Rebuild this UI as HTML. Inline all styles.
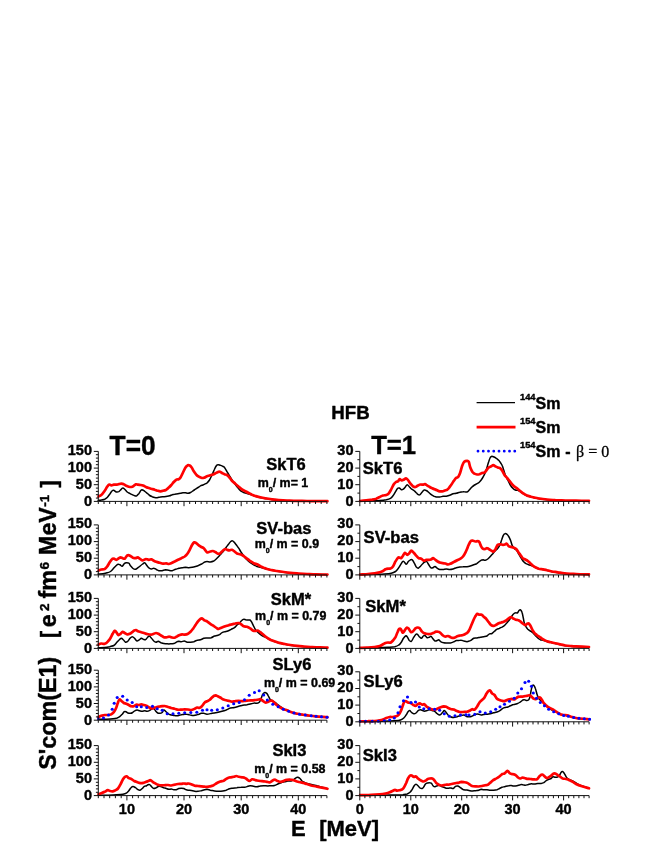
<!DOCTYPE html>
<html><head><meta charset="utf-8"><title>HFB E1 strength</title>
<style>html,body{margin:0;padding:0;background:#fff;}svg{display:block;will-change:transform;opacity:0.999;}text{font-family:"Liberation Sans", sans-serif;font-weight:bold;fill:#000;stroke:#000;stroke-width:0.4px;stroke-linejoin:round;}</style>
</head><body>
<svg width="654" height="846" viewBox="0 0 654 846">
<rect x="0" y="0" width="654" height="846" fill="#fff"/>
<clipPath id="cl0"><rect x="97.3" y="446.4" width="231.6" height="58.0"/></clipPath>
<g clip-path="url(#cl0)">
<path d="M98.0,500.5 C98.5,500.4 100.3,500.2 101.3,500.0 C102.4,499.8 103.7,499.6 104.7,499.2 C105.6,498.8 106.4,498.3 107.2,497.5 C108.0,496.7 108.9,495.2 109.7,494.2 C110.5,493.1 111.5,491.4 112.2,490.8 C112.8,490.2 113.2,490.1 113.8,490.3 C114.5,490.5 115.5,491.8 116.3,492.0 C117.1,492.2 118.2,492.0 118.8,491.7 C119.5,491.3 119.9,490.6 120.5,490.0 C121.1,489.4 122.0,488.1 122.7,488.0 C123.3,487.9 123.9,488.5 124.7,489.2 C125.4,489.8 126.4,491.3 127.2,492.0 C128.0,492.7 128.9,492.9 129.7,493.3 C130.5,493.8 131.4,494.3 132.2,494.7 C133.0,495.1 133.9,495.6 134.7,495.8 C135.4,496.0 136.0,496.2 136.7,495.8 C137.3,495.5 138.1,494.5 138.8,493.7 C139.5,492.8 140.4,490.9 141.0,490.3 C141.6,489.7 142.1,489.8 142.7,490.0 C143.3,490.2 143.9,490.8 144.7,491.3 C145.4,491.9 146.4,492.7 147.2,493.3 C148.0,494.0 148.9,495.0 149.7,495.5 C150.5,496.0 151.4,496.3 152.2,496.7 C153.0,497.0 153.9,497.3 154.7,497.5 C155.5,497.7 156.2,497.7 157.2,497.7 C158.1,497.6 159.4,497.2 160.5,497.0 C161.6,496.8 162.8,496.8 163.8,496.7 C164.9,496.6 166.2,496.5 167.2,496.3 C168.1,496.2 168.9,496.1 169.7,495.8 C170.5,495.6 171.4,494.9 172.2,494.7 C173.0,494.4 173.7,494.3 174.7,494.2 C175.6,494.0 177.1,494.0 178.0,493.8 C178.9,493.7 179.7,493.5 180.5,493.3 C181.3,493.2 182.2,492.9 183.0,492.8 C183.8,492.8 184.7,492.8 185.5,492.8 C186.3,492.9 187.2,493.4 188.0,493.3 C188.8,493.3 189.7,492.9 190.5,492.5 C191.3,492.1 192.2,491.4 193.0,490.8 C193.8,490.3 194.7,489.7 195.5,489.2 C196.3,488.6 197.2,488.0 198.0,487.5 C198.8,487.0 199.7,486.2 200.5,485.8 C201.3,485.4 202.2,485.3 203.0,485.0 C203.8,484.7 204.9,484.0 205.5,483.7 C206.1,483.3 206.4,483.6 207.0,483.0 C207.6,482.4 208.7,481.3 209.5,480.0 C210.3,478.7 211.2,476.7 212.0,475.0 C212.8,473.3 213.8,470.7 214.5,469.2 C215.2,467.6 216.1,466.1 216.7,465.3 C217.3,464.6 217.7,464.7 218.3,464.7 C218.9,464.7 219.6,465.1 220.3,465.3 C221.1,465.6 222.2,466.0 222.8,466.3 C223.5,466.7 223.8,466.6 224.5,467.5 C225.2,468.4 226.2,470.3 227.0,471.7 C227.8,473.0 228.7,474.5 229.5,475.8 C230.3,477.2 231.2,478.8 232.0,480.0 C232.8,481.2 233.7,482.3 234.5,483.3 C235.3,484.4 236.2,485.7 237.0,486.7 C237.8,487.7 238.7,488.9 239.5,489.7 C240.3,490.5 241.2,491.2 242.0,491.7 C242.8,492.2 243.7,492.5 244.5,492.8 C245.3,493.1 245.8,493.2 247.0,493.5 C248.2,493.8 250.7,494.4 252.0,494.8 C253.3,495.3 254.0,495.7 255.3,496.2 C256.7,496.6 258.7,497.1 260.3,497.5 C261.9,497.9 263.5,498.2 265.3,498.5 C267.2,498.8 269.9,499.2 272.0,499.5 C274.1,499.8 276.3,500.0 278.7,500.2 C281.1,500.4 284.1,500.5 287.0,500.7 C289.9,500.8 293.8,500.9 297.0,501.0 C300.2,501.1 302.1,501.1 307.0,501.2 C311.9,501.2 324.2,501.3 327.5,501.3" stroke="#000" stroke-width="1.5" fill="none" stroke-linejoin="round" stroke-linecap="round"/>
<path d="M98.0,496.7 C98.5,496.4 100.3,495.9 101.3,495.0 C102.4,494.1 103.7,492.2 104.7,490.8 C105.6,489.5 106.4,487.7 107.2,486.7 C107.9,485.7 108.7,484.7 109.3,484.5 C110.0,484.3 110.6,485.3 111.3,485.3 C112.1,485.4 113.0,484.8 113.8,484.7 C114.6,484.6 115.5,484.7 116.3,484.7 C117.1,484.6 118.0,484.3 118.8,484.2 C119.6,484.0 120.5,483.7 121.3,483.7 C122.1,483.7 123.0,483.8 123.8,484.2 C124.6,484.5 125.5,485.4 126.3,485.8 C127.1,486.2 128.0,486.5 128.8,486.7 C129.6,486.9 130.5,487.1 131.3,487.0 C132.1,486.9 133.1,486.3 133.8,485.8 C134.6,485.4 135.3,484.5 136.0,484.3 C136.7,484.1 137.3,484.6 138.0,484.7 C138.7,484.8 139.7,484.9 140.5,485.0 C141.3,485.1 142.2,485.2 143.0,485.5 C143.8,485.8 144.7,486.3 145.5,486.7 C146.3,487.0 147.1,487.5 148.0,487.8 C148.9,488.2 150.3,488.5 151.3,488.8 C152.4,489.1 153.6,489.3 154.7,489.7 C155.7,490.0 157.1,490.6 158.0,490.8 C158.9,491.1 159.7,491.3 160.5,491.3 C161.3,491.3 162.1,491.1 163.0,490.8 C163.9,490.6 165.4,490.2 166.3,489.7 C167.3,489.1 168.0,488.2 168.8,487.5 C169.6,486.8 170.5,485.9 171.3,485.0 C172.1,484.1 173.0,482.9 173.8,482.0 C174.6,481.1 175.5,480.1 176.3,479.7 C177.1,479.2 178.2,479.5 178.8,479.2 C179.5,478.8 179.8,478.6 180.5,477.5 C181.2,476.4 182.2,474.1 183.0,472.5 C183.8,470.9 184.8,468.6 185.5,467.5 C186.2,466.4 187.0,465.7 187.7,465.3 C188.3,465.0 189.0,465.2 189.7,465.5 C190.3,465.8 191.0,466.6 191.7,467.5 C192.3,468.4 193.1,470.2 193.8,471.3 C194.6,472.5 195.5,473.8 196.3,474.7 C197.1,475.5 198.0,476.2 198.8,476.7 C199.6,477.2 200.5,477.6 201.3,477.8 C202.1,478.0 202.9,478.1 203.8,477.8 C204.7,477.6 206.0,476.7 207.0,476.3 C208.0,475.9 209.3,475.7 210.3,475.3 C211.4,475.0 212.6,474.6 213.7,474.2 C214.7,473.7 216.1,472.9 217.0,472.5 C217.9,472.1 218.7,471.6 219.5,471.7 C220.3,471.7 221.2,472.6 222.0,473.0 C222.8,473.4 223.7,473.8 224.5,474.2 C225.3,474.5 226.2,474.5 227.0,475.0 C227.8,475.5 228.7,476.6 229.5,477.5 C230.3,478.4 231.1,479.8 232.0,480.8 C232.9,481.8 234.3,482.7 235.3,483.7 C236.4,484.6 237.6,485.7 238.7,486.7 C239.7,487.6 240.9,488.8 242.0,489.5 C243.1,490.2 244.3,490.8 245.3,491.3 C246.4,491.9 247.6,492.5 248.7,493.0 C249.7,493.5 250.9,494.2 252.0,494.7 C253.1,495.1 254.0,495.6 255.3,496.0 C256.7,496.4 258.7,497.0 260.3,497.3 C261.9,497.7 263.5,498.0 265.3,498.3 C267.2,498.7 269.9,499.1 272.0,499.3 C274.1,499.6 276.3,499.8 278.7,500.0 C281.1,500.2 284.1,500.4 287.0,500.5 C289.9,500.6 293.8,500.8 297.0,500.8 C300.2,500.9 304.0,500.9 307.0,501.0 C310.0,501.1 312.7,501.1 316.0,501.2 C319.3,501.2 325.7,501.2 327.5,501.2" stroke="#f00" stroke-width="2.7" fill="none" stroke-linejoin="round" stroke-linecap="round"/>
</g>
<text x="92.0" y="505.8" font-size="14.5" text-anchor="end">0</text>
<text x="92.0" y="488.8" font-size="14.5" text-anchor="end">50</text>
<text x="92.0" y="471.8" font-size="14.5" text-anchor="end">100</text>
<text x="92.0" y="454.8" font-size="14.5" text-anchor="end">150</text>
<path d="M98.3,451.4 L98.3,501.4 L326.9,501.4 M98.3,501.4 h-4.5 M98.3,498.1 h-2.4 M98.3,494.7 h-2.4 M98.3,491.4 h-2.4 M98.3,488.1 h-2.4 M98.3,484.7 h-4.5 M98.3,481.4 h-2.4 M98.3,478.1 h-2.4 M98.3,474.7 h-2.4 M98.3,471.4 h-2.4 M98.3,468.1 h-4.5 M98.3,464.7 h-2.4 M98.3,461.4 h-2.4 M98.3,458.1 h-2.4 M98.3,454.7 h-2.4 M98.3,451.4 h-4.5 M98.3,501.4 v2.6 M104.0,501.4 v2.6 M109.7,501.4 v2.6 M115.4,501.4 v2.6 M121.2,501.4 v2.6 M126.9,501.4 v4.8 M132.6,501.4 v2.6 M138.3,501.4 v2.6 M144.0,501.4 v2.6 M149.7,501.4 v2.6 M155.4,501.4 v2.6 M161.2,501.4 v2.6 M166.9,501.4 v2.6 M172.6,501.4 v2.6 M178.3,501.4 v2.6 M184.0,501.4 v4.8 M189.7,501.4 v2.6 M195.5,501.4 v2.6 M201.2,501.4 v2.6 M206.9,501.4 v2.6 M212.6,501.4 v2.6 M218.3,501.4 v2.6 M224.0,501.4 v2.6 M229.7,501.4 v2.6 M235.5,501.4 v2.6 M241.2,501.4 v4.8 M246.9,501.4 v2.6 M252.6,501.4 v2.6 M258.3,501.4 v2.6 M264.0,501.4 v2.6 M269.8,501.4 v2.6 M275.5,501.4 v2.6 M281.2,501.4 v2.6 M286.9,501.4 v2.6 M292.6,501.4 v2.6 M298.3,501.4 v4.8 M304.0,501.4 v2.6 M309.8,501.4 v2.6 M315.5,501.4 v2.6 M321.2,501.4 v2.6 M326.9,501.4 v2.6" stroke="#111" stroke-width="1.0" fill="none"/>
<clipPath id="cr0"><rect x="358.8" y="446.4" width="232.3" height="58.0"/></clipPath>
<g clip-path="url(#cr0)">
<path d="M359.8,501.2 C361.7,501.1 368.2,500.9 371.3,500.8 C374.5,500.7 377.3,500.7 379.7,500.5 C382.1,500.3 384.6,500.0 386.3,499.7 C388.1,499.3 389.4,498.9 390.5,498.3 C391.6,497.7 392.2,496.9 393.0,495.8 C393.8,494.8 394.8,492.9 395.5,491.7 C396.2,490.5 397.1,488.9 397.7,488.3 C398.3,487.7 398.7,487.8 399.3,488.0 C399.9,488.2 400.7,489.5 401.3,489.7 C402.0,489.9 402.7,489.6 403.3,489.2 C404.0,488.7 404.9,487.4 405.5,486.7 C406.1,485.9 406.6,484.7 407.2,484.7 C407.8,484.7 408.6,485.9 409.3,486.7 C410.1,487.4 410.9,488.5 411.7,489.2 C412.5,489.8 413.6,490.2 414.3,490.8 C415.1,491.4 415.7,492.2 416.3,492.8 C417.0,493.4 417.7,494.4 418.3,494.7 C418.9,495.0 419.4,495.1 420.0,494.7 C420.6,494.2 421.5,492.7 422.2,492.0 C422.8,491.3 423.5,490.2 424.2,490.0 C424.8,489.8 425.6,490.1 426.3,490.5 C427.1,490.9 428.0,491.8 428.8,492.5 C429.6,493.2 430.5,494.1 431.3,494.7 C432.1,495.3 433.0,495.8 433.8,496.2 C434.6,496.5 435.4,496.9 436.3,497.0 C437.3,497.1 438.6,497.1 439.7,497.0 C440.7,496.9 441.9,496.5 443.0,496.3 C444.1,496.2 445.3,496.3 446.3,496.2 C447.4,496.0 448.6,495.7 449.7,495.3 C450.7,495.0 451.9,494.2 453.0,493.8 C454.1,493.5 455.3,493.6 456.3,493.3 C457.4,493.1 458.6,492.4 459.7,492.2 C460.7,491.9 461.8,491.7 463.0,491.7 C464.2,491.6 466.0,492.3 467.0,492.0 C468.0,491.7 468.7,490.5 469.5,489.7 C470.3,488.9 471.2,487.7 472.0,487.0 C472.8,486.3 473.7,485.5 474.5,485.0 C475.3,484.5 476.3,484.1 477.0,483.7 C477.7,483.3 478.3,483.1 479.0,482.5 C479.7,481.9 480.5,480.9 481.2,480.0 C481.9,479.1 482.7,477.9 483.3,476.7 C484.0,475.5 484.7,474.0 485.3,472.5 C485.9,471.0 486.5,469.2 487.0,467.5 C487.5,465.8 488.1,463.3 488.7,461.7 C489.2,460.1 489.8,458.4 490.3,457.5 C490.9,456.6 491.4,456.4 492.0,456.3 C492.6,456.3 493.3,456.7 494.0,457.0 C494.7,457.3 495.4,457.8 496.2,458.3 C496.9,458.9 497.9,459.6 498.7,460.3 C499.4,461.1 500.1,462.1 500.7,463.0 C501.3,463.9 501.9,464.7 502.3,465.8 C502.8,467.0 503.2,468.5 503.7,470.0 C504.1,471.5 504.7,473.4 505.3,475.0 C506.0,476.6 507.0,478.4 507.8,480.0 C508.6,481.6 509.5,483.7 510.3,485.0 C511.1,486.3 512.0,487.5 512.8,488.3 C513.6,489.1 514.5,489.7 515.3,490.0 C516.1,490.3 517.0,490.1 517.8,490.3 C518.6,490.6 519.4,491.1 520.3,491.7 C521.3,492.2 522.6,493.2 523.7,493.8 C524.7,494.5 525.8,495.2 527.0,495.7 C528.2,496.1 529.8,496.5 531.2,496.8 C532.5,497.2 533.9,497.7 535.3,498.0 C536.8,498.3 538.5,498.6 540.3,498.8 C542.2,499.1 544.6,499.4 547.0,499.7 C549.4,499.9 552.4,500.2 555.3,500.3 C558.3,500.5 559.9,500.6 565.3,500.7 C570.7,500.8 585.2,500.9 589.0,501.0" stroke="#000" stroke-width="1.5" fill="none" stroke-linejoin="round" stroke-linecap="round"/>
<path d="M359.8,501.0 C360.9,500.9 364.4,500.5 366.3,500.3 C368.3,500.1 370.6,499.9 372.2,499.7 C373.8,499.4 375.1,499.1 376.3,498.7 C377.5,498.2 378.6,497.5 379.7,497.0 C380.7,496.5 381.9,495.8 383.0,495.5 C384.1,495.2 385.4,495.3 386.3,495.0 C387.3,494.7 388.0,494.3 388.8,493.3 C389.6,492.4 390.5,490.6 391.3,489.2 C392.1,487.7 393.1,485.3 393.8,484.2 C394.6,483.0 395.3,482.5 396.0,482.0 C396.7,481.5 397.4,481.8 398.0,481.3 C398.6,480.9 399.1,479.3 399.7,479.2 C400.3,479.0 401.0,480.3 401.7,480.3 C402.3,480.4 403.1,480.0 403.8,479.7 C404.5,479.3 405.3,478.3 406.0,478.3 C406.7,478.4 407.3,479.1 408.0,480.0 C408.7,480.9 409.7,482.7 410.5,483.7 C411.3,484.7 412.2,485.8 413.0,486.3 C413.8,486.9 414.7,487.1 415.5,487.0 C416.3,486.9 417.2,485.9 418.0,485.5 C418.8,485.1 419.7,484.6 420.5,484.5 C421.3,484.4 422.3,484.7 423.0,484.7 C423.7,484.6 424.3,484.0 425.0,484.2 C425.7,484.3 426.4,485.0 427.2,485.5 C427.9,486.0 428.9,486.5 429.7,487.0 C430.5,487.5 431.4,488.0 432.2,488.3 C433.0,488.7 433.9,489.0 434.7,489.3 C435.5,489.7 436.4,490.0 437.2,490.3 C438.0,490.7 438.9,491.2 439.7,491.3 C440.5,491.5 441.4,491.5 442.2,491.3 C443.0,491.2 443.9,490.8 444.7,490.5 C445.5,490.2 446.4,490.1 447.2,489.7 C447.9,489.2 448.7,488.3 449.3,487.5 C450.0,486.7 450.6,485.7 451.3,484.7 C452.1,483.6 453.1,481.9 453.8,480.8 C454.6,479.8 455.3,478.6 456.0,478.0 C456.7,477.4 457.4,477.9 458.0,477.2 C458.6,476.4 459.3,475.1 460.0,473.3 C460.7,471.5 461.5,467.7 462.2,465.8 C462.9,464.0 463.6,462.5 464.3,461.7 C465.1,460.9 466.3,460.8 467.0,460.8 C467.7,460.8 468.1,460.6 468.7,461.7 C469.2,462.7 469.7,465.9 470.3,467.5 C470.9,469.1 471.7,470.7 472.3,471.7 C473.0,472.7 473.8,473.2 474.5,473.7 C475.2,474.1 476.2,474.4 477.0,474.5 C477.8,474.6 478.7,474.4 479.5,474.2 C480.3,473.9 481.2,473.3 482.0,473.0 C482.8,472.7 483.8,473.0 484.5,472.5 C485.2,472.0 486.0,470.8 486.7,470.0 C487.3,469.2 487.9,468.1 488.7,467.5 C489.4,466.9 490.4,466.7 491.2,466.3 C491.9,465.9 492.7,465.0 493.3,465.0 C494.0,465.0 494.6,465.9 495.3,466.3 C496.1,466.7 497.0,467.2 497.8,467.5 C498.6,467.8 499.6,467.8 500.3,468.3 C501.1,468.9 501.7,469.8 502.3,470.8 C503.0,471.9 503.8,473.9 504.5,475.0 C505.2,476.1 506.2,476.9 507.0,477.8 C507.8,478.8 508.7,479.8 509.5,480.8 C510.3,481.8 511.2,483.2 512.0,484.2 C512.8,485.1 513.7,486.0 514.5,486.7 C515.3,487.3 516.1,487.6 517.0,488.3 C517.9,489.1 519.3,490.3 520.3,491.2 C521.4,492.0 522.6,493.0 523.7,493.7 C524.7,494.4 525.8,495.0 527.0,495.5 C528.2,496.0 529.8,496.3 531.2,496.7 C532.5,497.0 533.9,497.5 535.3,497.8 C536.8,498.2 538.5,498.4 540.3,498.7 C542.2,498.9 544.6,499.3 547.0,499.5 C549.4,499.7 552.4,500.0 555.3,500.2 C558.3,500.3 562.0,500.4 565.3,500.5 C568.6,500.6 572.2,500.6 576.0,500.7 C579.8,500.7 586.9,500.8 589.0,500.8" stroke="#f00" stroke-width="2.7" fill="none" stroke-linejoin="round" stroke-linecap="round"/>
</g>
<text x="353.5" y="505.8" font-size="14.5" text-anchor="end">0</text>
<text x="353.5" y="488.8" font-size="14.5" text-anchor="end">10</text>
<text x="353.5" y="471.8" font-size="14.5" text-anchor="end">20</text>
<text x="353.5" y="454.8" font-size="14.5" text-anchor="end">30</text>
<path d="M359.8,451.4 L359.8,501.4 L589.1,501.4 M359.8,501.4 h-4.5 M359.8,493.1 h-2.4 M359.8,484.7 h-4.5 M359.8,476.4 h-2.4 M359.8,468.1 h-4.5 M359.8,459.7 h-2.4 M359.8,451.4 h-4.5 M359.8,501.4 v4.8 M364.9,501.4 v2.6 M370.0,501.4 v2.6 M375.1,501.4 v2.6 M380.2,501.4 v2.6 M385.3,501.4 v2.6 M390.4,501.4 v2.6 M395.5,501.4 v2.6 M400.6,501.4 v2.6 M405.7,501.4 v2.6 M410.8,501.4 v4.8 M415.8,501.4 v2.6 M420.9,501.4 v2.6 M426.0,501.4 v2.6 M431.1,501.4 v2.6 M436.2,501.4 v2.6 M441.3,501.4 v2.6 M446.4,501.4 v2.6 M451.5,501.4 v2.6 M456.6,501.4 v2.6 M461.7,501.4 v4.8 M466.8,501.4 v2.6 M471.9,501.4 v2.6 M477.0,501.4 v2.6 M482.1,501.4 v2.6 M487.2,501.4 v2.6 M492.3,501.4 v2.6 M497.4,501.4 v2.6 M502.5,501.4 v2.6 M507.6,501.4 v2.6 M512.6,501.4 v4.8 M517.7,501.4 v2.6 M522.8,501.4 v2.6 M527.9,501.4 v2.6 M533.0,501.4 v2.6 M538.1,501.4 v2.6 M543.2,501.4 v2.6 M548.3,501.4 v2.6 M553.4,501.4 v2.6 M558.5,501.4 v2.6 M563.6,501.4 v4.8 M568.7,501.4 v2.6 M573.8,501.4 v2.6 M578.9,501.4 v2.6 M584.0,501.4 v2.6 M589.1,501.4 v2.6" stroke="#111" stroke-width="1.0" fill="none"/>
<clipPath id="cl1"><rect x="97.3" y="519.9" width="231.6" height="58.0"/></clipPath>
<g clip-path="url(#cl1)">
<path d="M98.0,574.0 C98.8,573.9 101.5,573.9 103.0,573.7 C104.5,573.5 106.0,573.2 107.2,572.8 C108.4,572.5 109.6,572.1 110.5,571.5 C111.4,570.9 112.2,569.9 113.0,569.0 C113.8,568.1 114.7,566.9 115.5,566.2 C116.3,565.4 117.3,564.5 118.0,564.3 C118.7,564.1 119.3,564.5 120.0,564.8 C120.7,565.1 121.5,566.4 122.2,566.2 C122.9,566.0 123.7,564.2 124.3,563.7 C125.0,563.1 125.6,562.9 126.3,562.8 C127.1,562.8 128.2,562.7 128.8,563.2 C129.5,563.6 129.8,564.8 130.5,565.7 C131.2,566.5 132.2,567.9 133.0,568.5 C133.8,569.1 134.7,569.5 135.5,569.3 C136.3,569.2 137.2,568.3 138.0,567.7 C138.8,567.1 139.8,566.3 140.5,565.7 C141.2,565.1 142.0,564.5 142.7,564.0 C143.3,563.5 144.1,562.5 144.7,562.7 C145.3,562.8 145.7,564.0 146.3,564.8 C147.0,565.7 148.0,567.2 148.8,567.8 C149.6,568.5 150.5,568.9 151.3,569.0 C152.1,569.1 153.0,568.1 153.8,568.2 C154.6,568.2 155.5,569.1 156.3,569.5 C157.1,569.9 157.9,570.5 158.8,570.7 C159.8,570.9 161.1,570.8 162.2,570.7 C163.2,570.5 164.4,569.9 165.5,569.8 C166.6,569.8 167.8,570.2 168.8,570.3 C169.9,570.5 171.1,570.8 172.2,570.7 C173.2,570.5 174.4,569.7 175.5,569.3 C176.6,569.0 177.8,568.6 178.8,568.3 C179.9,568.1 181.1,568.0 182.2,567.8 C183.2,567.7 184.4,567.4 185.5,567.3 C186.6,567.3 187.8,567.7 188.8,567.7 C189.9,567.7 191.1,567.5 192.2,567.3 C193.2,567.1 194.4,566.8 195.5,566.5 C196.6,566.2 197.8,565.8 198.8,565.3 C199.9,564.9 201.2,564.2 202.2,563.7 C203.1,563.1 203.9,562.3 204.7,562.0 C205.4,561.7 206.1,561.5 207.0,561.5 C207.9,561.5 209.3,562.1 210.3,562.0 C211.4,561.9 212.7,561.5 213.7,561.0 C214.6,560.5 215.4,559.7 216.2,559.0 C217.0,558.3 217.9,557.4 218.7,556.5 C219.5,555.6 220.4,554.6 221.2,553.7 C222.0,552.7 222.9,551.7 223.7,550.7 C224.5,549.7 225.4,548.4 226.2,547.3 C227.0,546.3 227.9,544.9 228.7,544.0 C229.4,543.1 230.1,542.0 230.7,541.5 C231.3,541.0 231.8,540.6 232.3,540.7 C232.9,540.7 233.4,541.3 234.0,542.0 C234.6,542.7 235.4,543.8 236.2,544.8 C236.9,545.8 237.9,547.0 238.7,548.2 C239.5,549.4 240.4,551.1 241.2,552.3 C242.0,553.6 242.7,554.8 243.7,556.0 C244.6,557.2 245.9,558.8 247.0,559.8 C248.1,560.9 249.3,561.9 250.3,562.7 C251.4,563.5 252.6,564.2 253.7,564.8 C254.7,565.4 255.9,566.1 257.0,566.5 C258.1,566.9 259.3,567.1 260.3,567.3 C261.4,567.6 262.6,567.9 263.7,568.2 C264.7,568.5 265.7,568.8 267.0,569.2 C268.3,569.5 270.4,570.0 272.0,570.3 C273.6,570.7 275.1,570.9 277.0,571.2 C278.9,571.5 281.5,571.9 283.7,572.2 C285.8,572.5 287.9,572.8 290.3,573.0 C292.7,573.2 296.0,573.5 298.7,573.7 C301.3,573.9 302.4,574.0 307.0,574.2 C311.6,574.3 324.2,574.6 327.5,574.7" stroke="#000" stroke-width="1.5" fill="none" stroke-linejoin="round" stroke-linecap="round"/>
<path d="M98.0,570.7 C98.5,570.5 100.3,569.8 101.3,569.5 C102.4,569.2 103.7,569.5 104.7,569.0 C105.6,568.5 106.4,567.6 107.2,566.5 C108.0,565.4 108.9,563.5 109.7,562.3 C110.5,561.1 111.5,559.6 112.2,559.0 C112.8,558.4 113.2,558.5 113.8,558.7 C114.5,558.8 115.5,559.9 116.3,559.8 C117.1,559.8 118.2,558.6 118.8,558.2 C119.5,557.8 119.9,557.3 120.5,557.3 C121.1,557.3 122.0,558.0 122.7,558.2 C123.3,558.4 124.1,558.9 124.7,558.7 C125.3,558.4 125.8,557.1 126.3,556.5 C126.9,555.9 127.3,555.2 128.0,555.2 C128.7,555.1 129.7,555.6 130.5,556.0 C131.3,556.4 132.2,557.3 133.0,557.7 C133.8,558.0 134.8,558.2 135.5,558.2 C136.2,558.1 137.0,557.3 137.7,557.3 C138.3,557.4 138.9,558.2 139.7,558.7 C140.4,559.1 141.4,560.2 142.2,560.3 C143.0,560.5 144.0,559.7 144.7,559.5 C145.3,559.3 145.7,558.9 146.3,559.0 C147.0,559.1 148.0,559.8 148.8,559.8 C149.6,559.9 150.5,559.2 151.3,559.3 C152.1,559.5 153.0,560.3 153.8,560.7 C154.6,561.1 155.4,561.5 156.3,561.8 C157.3,562.2 158.6,562.5 159.7,562.8 C160.7,563.1 161.9,563.6 163.0,563.7 C164.1,563.7 165.4,563.3 166.3,563.3 C167.3,563.4 168.0,564.0 168.8,564.0 C169.6,564.0 170.4,563.6 171.3,563.2 C172.3,562.8 173.6,562.0 174.7,561.5 C175.7,561.0 176.9,560.4 178.0,559.8 C179.1,559.3 180.3,558.7 181.3,558.2 C182.4,557.6 183.7,557.2 184.7,556.5 C185.6,555.8 186.4,555.1 187.2,554.0 C188.0,552.9 188.9,551.3 189.7,549.8 C190.5,548.4 191.4,546.0 192.2,544.8 C192.9,543.6 193.7,542.6 194.3,542.3 C195.0,542.1 195.6,542.7 196.3,543.2 C197.1,543.6 198.0,544.7 198.8,545.3 C199.6,545.9 200.5,546.5 201.3,547.0 C202.1,547.5 202.9,547.3 203.8,548.2 C204.7,549.0 206.0,551.8 207.0,552.3 C208.0,552.9 209.4,551.7 210.3,551.5 C211.3,551.3 212.0,550.9 212.8,551.0 C213.6,551.1 214.5,551.6 215.3,552.0 C216.1,552.4 217.0,553.5 217.8,553.7 C218.6,553.9 219.5,553.6 220.3,553.2 C221.1,552.7 222.1,551.3 222.8,550.7 C223.6,550.0 224.3,549.1 225.0,549.0 C225.7,548.9 226.3,549.6 227.0,549.8 C227.7,550.0 228.7,550.3 229.5,550.3 C230.3,550.3 231.2,549.6 232.0,549.8 C232.8,550.0 233.7,550.9 234.5,551.5 C235.3,552.1 236.1,553.0 237.0,553.5 C237.9,554.0 239.3,553.9 240.3,554.3 C241.4,554.7 242.6,555.3 243.7,556.0 C244.7,556.7 245.9,557.8 247.0,558.7 C248.1,559.5 249.3,560.4 250.3,561.2 C251.4,561.9 252.6,562.7 253.7,563.2 C254.7,563.7 255.9,563.9 257.0,564.3 C258.1,564.8 259.3,565.6 260.3,566.2 C261.4,566.7 262.6,567.2 263.7,567.7 C264.7,568.1 265.7,568.6 267.0,569.0 C268.3,569.4 270.4,569.8 272.0,570.2 C273.6,570.5 275.1,570.7 277.0,571.0 C278.9,571.3 281.5,571.7 283.7,572.0 C285.8,572.3 287.9,572.6 290.3,572.8 C292.7,573.1 296.0,573.3 298.7,573.5 C301.3,573.7 304.2,573.9 307.0,574.0 C309.8,574.1 312.7,574.3 316.0,574.3 C319.3,574.4 325.7,574.5 327.5,574.5" stroke="#f00" stroke-width="2.7" fill="none" stroke-linejoin="round" stroke-linecap="round"/>
</g>
<text x="92.0" y="579.3" font-size="14.5" text-anchor="end">0</text>
<text x="92.0" y="562.3" font-size="14.5" text-anchor="end">50</text>
<text x="92.0" y="545.3" font-size="14.5" text-anchor="end">100</text>
<text x="92.0" y="528.3" font-size="14.5" text-anchor="end">150</text>
<path d="M98.3,524.9 L98.3,574.9 L326.9,574.9 M98.3,574.9 h-4.5 M98.3,571.6 h-2.4 M98.3,568.2 h-2.4 M98.3,564.9 h-2.4 M98.3,561.6 h-2.4 M98.3,558.2 h-4.5 M98.3,554.9 h-2.4 M98.3,551.6 h-2.4 M98.3,548.2 h-2.4 M98.3,544.9 h-2.4 M98.3,541.6 h-4.5 M98.3,538.2 h-2.4 M98.3,534.9 h-2.4 M98.3,531.6 h-2.4 M98.3,528.2 h-2.4 M98.3,524.9 h-4.5 M98.3,574.9 v2.6 M104.0,574.9 v2.6 M109.7,574.9 v2.6 M115.4,574.9 v2.6 M121.2,574.9 v2.6 M126.9,574.9 v4.8 M132.6,574.9 v2.6 M138.3,574.9 v2.6 M144.0,574.9 v2.6 M149.7,574.9 v2.6 M155.4,574.9 v2.6 M161.2,574.9 v2.6 M166.9,574.9 v2.6 M172.6,574.9 v2.6 M178.3,574.9 v2.6 M184.0,574.9 v4.8 M189.7,574.9 v2.6 M195.5,574.9 v2.6 M201.2,574.9 v2.6 M206.9,574.9 v2.6 M212.6,574.9 v2.6 M218.3,574.9 v2.6 M224.0,574.9 v2.6 M229.7,574.9 v2.6 M235.5,574.9 v2.6 M241.2,574.9 v4.8 M246.9,574.9 v2.6 M252.6,574.9 v2.6 M258.3,574.9 v2.6 M264.0,574.9 v2.6 M269.8,574.9 v2.6 M275.5,574.9 v2.6 M281.2,574.9 v2.6 M286.9,574.9 v2.6 M292.6,574.9 v2.6 M298.3,574.9 v4.8 M304.0,574.9 v2.6 M309.8,574.9 v2.6 M315.5,574.9 v2.6 M321.2,574.9 v2.6 M326.9,574.9 v2.6" stroke="#111" stroke-width="1.0" fill="none"/>
<clipPath id="cr1"><rect x="358.8" y="519.9" width="232.3" height="58.0"/></clipPath>
<g clip-path="url(#cr1)">
<path d="M359.8,574.7 C362.2,574.6 370.7,574.4 374.7,574.3 C378.6,574.2 382.0,574.2 384.7,574.0 C387.3,573.8 389.6,573.6 391.3,573.2 C393.1,572.8 394.4,572.2 395.5,571.5 C396.6,570.8 397.2,569.7 398.0,568.7 C398.8,567.6 399.8,566.0 400.5,564.8 C401.2,563.7 402.1,562.0 402.7,561.5 C403.3,561.0 403.7,561.5 404.3,562.0 C404.9,562.5 405.7,564.4 406.3,564.3 C407.0,564.3 407.7,562.2 408.3,561.5 C409.0,560.8 409.9,560.1 410.5,559.8 C411.1,559.6 411.6,559.3 412.2,559.8 C412.8,560.4 413.7,562.0 414.3,563.2 C415.0,564.3 415.7,566.2 416.3,567.0 C417.0,567.8 417.7,568.3 418.3,568.2 C419.0,568.0 419.8,566.9 420.5,566.2 C421.2,565.4 422.0,564.3 422.7,563.7 C423.3,563.0 424.0,562.3 424.7,562.0 C425.3,561.7 426.0,561.0 426.7,561.5 C427.3,562.0 428.1,563.8 428.8,564.8 C429.5,565.8 430.3,567.4 431.0,567.8 C431.7,568.3 432.4,567.9 433.0,567.7 C433.6,567.5 434.3,566.4 435.0,566.5 C435.7,566.6 436.4,567.7 437.2,568.2 C437.9,568.6 438.7,569.3 439.7,569.5 C440.6,569.7 441.9,569.6 443.0,569.5 C444.1,569.4 445.3,569.0 446.3,569.0 C447.4,569.0 448.6,569.5 449.7,569.5 C450.7,569.5 451.9,569.3 453.0,569.0 C454.1,568.7 455.3,568.0 456.3,567.7 C457.4,567.3 458.6,567.2 459.7,567.0 C460.7,566.8 461.8,566.7 463.0,566.7 C464.2,566.6 465.8,566.8 467.0,566.7 C468.2,566.6 469.3,566.3 470.3,566.0 C471.4,565.7 472.7,565.2 473.7,564.8 C474.7,564.5 475.8,564.1 476.7,563.7 C477.5,563.2 478.3,562.4 479.0,561.8 C479.7,561.3 480.5,560.5 481.2,560.2 C481.9,559.8 482.7,559.8 483.3,559.8 C484.0,559.9 484.6,560.5 485.3,560.3 C486.1,560.2 487.0,559.6 487.8,559.0 C488.6,558.4 489.5,557.4 490.3,556.5 C491.1,555.6 492.0,554.6 492.8,553.7 C493.6,552.7 494.5,551.5 495.3,550.7 C496.1,549.8 497.1,549.1 497.8,548.2 C498.6,547.2 499.4,546.2 500.0,544.8 C500.6,543.5 501.1,541.4 501.7,539.8 C502.2,538.3 502.8,536.3 503.3,535.3 C503.9,534.3 504.4,533.8 505.0,533.7 C505.6,533.5 506.4,533.8 507.0,534.3 C507.6,534.9 508.4,536.0 509.0,537.0 C509.6,538.0 510.1,539.3 510.7,540.7 C511.2,542.1 511.7,544.4 512.3,545.7 C512.9,546.9 513.8,547.9 514.5,548.7 C515.2,549.4 516.0,549.5 516.7,550.3 C517.3,551.2 517.9,552.7 518.7,554.0 C519.4,555.3 520.4,556.9 521.2,558.2 C522.0,559.4 522.9,561.0 523.7,561.8 C524.5,562.7 525.4,563.2 526.2,563.7 C527.0,564.1 527.7,564.5 528.7,564.8 C529.6,565.2 530.9,565.3 532.0,565.7 C533.1,566.1 534.3,566.8 535.3,567.3 C536.4,567.8 537.5,568.5 538.7,568.8 C539.9,569.2 541.5,569.3 542.8,569.5 C544.2,569.7 545.5,570.0 547.0,570.3 C548.5,570.7 550.3,571.3 552.0,571.7 C553.7,572.0 555.8,572.2 557.8,572.5 C559.8,572.8 562.5,573.3 564.5,573.5 C566.5,573.7 566.4,573.8 570.3,574.0 C574.3,574.2 586.0,574.4 589.0,574.5" stroke="#000" stroke-width="1.5" fill="none" stroke-linejoin="round" stroke-linecap="round"/>
<path d="M359.8,574.5 C361.1,574.4 365.6,574.2 368.0,574.0 C370.4,573.8 372.8,573.6 374.7,573.3 C376.5,573.1 378.3,572.7 379.7,572.3 C381.0,572.0 382.1,571.5 383.0,571.0 C383.9,570.5 384.7,569.7 385.5,569.3 C386.3,569.0 387.2,568.8 388.0,568.7 C388.8,568.5 389.7,568.8 390.5,568.5 C391.3,568.2 392.3,567.5 393.0,566.5 C393.7,565.5 394.3,563.6 395.0,562.3 C395.7,561.1 396.6,559.5 397.2,558.7 C397.8,557.9 398.2,557.4 398.8,557.3 C399.4,557.3 400.3,558.4 401.0,558.2 C401.7,557.9 402.4,556.5 403.0,555.7 C403.6,554.8 404.3,553.0 405.0,552.8 C405.7,552.7 406.5,554.8 407.2,554.8 C407.9,554.9 408.7,553.8 409.3,553.2 C410.0,552.5 410.6,550.7 411.3,550.7 C412.1,550.6 413.0,552.0 413.8,552.8 C414.6,553.6 415.5,554.8 416.3,555.7 C417.1,556.5 418.0,557.7 418.8,558.2 C419.6,558.6 420.5,558.3 421.3,558.7 C422.1,559.1 423.0,560.5 423.8,560.7 C424.6,560.9 425.5,560.0 426.3,559.8 C427.1,559.7 428.1,559.9 428.8,559.8 C429.6,559.8 430.3,559.8 431.0,559.5 C431.7,559.2 432.4,558.2 433.0,558.2 C433.6,558.2 434.3,559.0 435.0,559.5 C435.7,560.0 436.8,561.0 437.7,561.5 C438.5,562.0 439.6,562.4 440.5,562.7 C441.4,562.9 442.2,563.0 443.0,563.2 C443.8,563.3 444.7,563.3 445.5,563.5 C446.3,563.7 447.2,564.5 448.0,564.5 C448.8,564.5 449.6,564.1 450.5,563.7 C451.4,563.3 452.8,562.5 453.8,562.0 C454.9,561.5 456.1,560.9 457.2,560.3 C458.2,559.8 459.6,559.3 460.5,558.7 C461.4,558.1 462.2,557.5 463.0,556.5 C463.8,555.5 464.9,553.5 465.5,552.3 C466.1,551.1 466.5,550.2 467.0,549.0 C467.5,547.8 468.1,546.1 468.7,544.8 C469.3,543.6 470.0,541.8 470.7,541.2 C471.3,540.5 472.1,540.6 472.8,540.7 C473.6,540.7 474.5,541.4 475.3,541.5 C476.1,541.6 477.2,541.0 477.8,541.2 C478.5,541.3 479.0,541.5 479.5,542.3 C480.0,543.2 480.6,545.5 481.2,546.5 C481.7,547.5 482.2,548.3 482.8,548.7 C483.4,549.1 484.3,549.1 485.0,549.0 C485.7,548.9 486.3,548.1 487.0,548.2 C487.7,548.2 488.7,549.0 489.5,549.5 C490.3,550.0 491.3,550.7 492.0,551.0 C492.7,551.3 493.1,551.9 493.7,551.5 C494.3,551.1 495.0,549.7 495.7,548.7 C496.3,547.6 497.1,545.5 497.8,544.8 C498.6,544.1 499.5,544.3 500.3,544.3 C501.1,544.3 502.1,544.8 502.8,544.8 C503.6,544.9 504.4,544.7 505.0,544.5 C505.6,544.3 506.1,543.4 506.7,543.7 C507.3,543.9 507.9,545.6 508.7,546.2 C509.4,546.7 510.4,546.8 511.2,547.0 C512.0,547.2 512.9,547.3 513.7,547.7 C514.5,548.0 515.4,548.3 516.2,549.0 C516.9,549.7 517.7,551.1 518.3,552.0 C519.0,552.9 519.6,553.8 520.3,554.8 C521.1,555.8 522.0,557.4 522.8,558.2 C523.6,558.9 524.5,559.0 525.3,559.5 C526.1,560.0 527.0,560.4 527.8,561.0 C528.6,561.6 529.5,562.4 530.3,563.2 C531.1,563.9 532.0,565.0 532.8,565.7 C533.6,566.3 534.4,566.9 535.3,567.3 C536.3,567.8 537.5,568.3 538.7,568.7 C539.9,569.0 541.5,569.1 542.8,569.3 C544.2,569.6 545.5,569.8 547.0,570.2 C548.5,570.5 550.3,571.2 552.0,571.5 C553.7,571.8 555.8,572.0 557.8,572.3 C559.8,572.6 562.5,573.1 564.5,573.3 C566.5,573.6 568.5,573.7 570.3,573.8 C572.2,573.9 573.0,573.9 576.0,574.0 C579.0,574.1 586.9,574.3 589.0,574.3" stroke="#f00" stroke-width="2.7" fill="none" stroke-linejoin="round" stroke-linecap="round"/>
</g>
<text x="353.5" y="579.3" font-size="14.5" text-anchor="end">0</text>
<text x="353.5" y="562.3" font-size="14.5" text-anchor="end">10</text>
<text x="353.5" y="545.3" font-size="14.5" text-anchor="end">20</text>
<text x="353.5" y="528.3" font-size="14.5" text-anchor="end">30</text>
<path d="M359.8,524.9 L359.8,574.9 L589.1,574.9 M359.8,574.9 h-4.5 M359.8,566.6 h-2.4 M359.8,558.2 h-4.5 M359.8,549.9 h-2.4 M359.8,541.6 h-4.5 M359.8,533.2 h-2.4 M359.8,524.9 h-4.5 M359.8,574.9 v4.8 M364.9,574.9 v2.6 M370.0,574.9 v2.6 M375.1,574.9 v2.6 M380.2,574.9 v2.6 M385.3,574.9 v2.6 M390.4,574.9 v2.6 M395.5,574.9 v2.6 M400.6,574.9 v2.6 M405.7,574.9 v2.6 M410.8,574.9 v4.8 M415.8,574.9 v2.6 M420.9,574.9 v2.6 M426.0,574.9 v2.6 M431.1,574.9 v2.6 M436.2,574.9 v2.6 M441.3,574.9 v2.6 M446.4,574.9 v2.6 M451.5,574.9 v2.6 M456.6,574.9 v2.6 M461.7,574.9 v4.8 M466.8,574.9 v2.6 M471.9,574.9 v2.6 M477.0,574.9 v2.6 M482.1,574.9 v2.6 M487.2,574.9 v2.6 M492.3,574.9 v2.6 M497.4,574.9 v2.6 M502.5,574.9 v2.6 M507.6,574.9 v2.6 M512.6,574.9 v4.8 M517.7,574.9 v2.6 M522.8,574.9 v2.6 M527.9,574.9 v2.6 M533.0,574.9 v2.6 M538.1,574.9 v2.6 M543.2,574.9 v2.6 M548.3,574.9 v2.6 M553.4,574.9 v2.6 M558.5,574.9 v2.6 M563.6,574.9 v4.8 M568.7,574.9 v2.6 M573.8,574.9 v2.6 M578.9,574.9 v2.6 M584.0,574.9 v2.6 M589.1,574.9 v2.6" stroke="#111" stroke-width="1.0" fill="none"/>
<clipPath id="cl2"><rect x="97.3" y="593.4" width="231.6" height="58.0"/></clipPath>
<g clip-path="url(#cl2)">
<path d="M98.0,647.7 C99.1,647.6 102.8,647.7 104.7,647.5 C106.5,647.3 108.2,647.0 109.7,646.7 C111.1,646.3 112.8,646.1 113.8,645.5 C114.9,644.9 115.5,643.9 116.3,643.0 C117.1,642.1 118.0,640.9 118.8,640.2 C119.6,639.4 120.6,638.4 121.3,638.3 C122.1,638.3 122.7,639.1 123.3,639.7 C124.0,640.3 124.8,641.9 125.5,642.2 C126.2,642.4 126.9,641.9 127.7,641.3 C128.4,640.7 129.3,639.1 130.0,638.3 C130.7,637.6 131.5,636.7 132.2,636.7 C132.9,636.6 133.6,637.3 134.3,638.0 C135.1,638.7 135.9,640.5 136.7,640.8 C137.4,641.2 138.1,640.6 138.8,640.2 C139.6,639.8 140.6,638.5 141.3,638.3 C142.1,638.2 142.7,639.0 143.3,639.2 C144.0,639.4 144.8,640.0 145.5,639.7 C146.2,639.3 147.1,637.8 147.7,637.2 C148.3,636.6 148.7,635.9 149.3,636.0 C149.9,636.1 150.6,637.2 151.3,638.0 C152.1,638.8 153.1,640.3 153.8,641.0 C154.6,641.7 155.3,642.1 156.0,642.2 C156.7,642.2 157.5,641.3 158.3,641.3 C159.1,641.4 160.1,642.3 161.0,642.7 C161.9,643.0 162.8,643.3 163.8,643.5 C164.8,643.7 166.1,643.8 167.2,643.8 C168.2,643.9 169.4,643.9 170.5,643.8 C171.6,643.8 172.9,643.8 173.8,643.5 C174.8,643.2 175.5,642.5 176.3,642.2 C177.1,641.8 178.0,641.4 178.8,641.3 C179.6,641.3 180.5,641.9 181.3,641.8 C182.2,641.8 183.4,640.9 184.3,641.0 C185.3,641.1 186.2,642.0 187.2,642.2 C188.2,642.4 189.4,642.2 190.5,642.2 C191.6,642.1 192.8,642.0 193.8,641.7 C194.9,641.3 196.1,640.5 197.2,640.2 C198.2,639.8 199.4,640.0 200.5,639.7 C201.6,639.4 202.8,638.6 203.8,638.3 C204.9,638.1 205.8,638.1 207.0,638.0 C208.2,637.9 210.0,638.0 211.2,637.7 C212.4,637.3 213.6,636.3 214.5,636.0 C215.4,635.7 216.2,635.7 217.0,635.5 C217.8,635.3 218.7,635.1 219.5,634.7 C220.3,634.2 221.2,633.1 222.0,632.7 C222.8,632.2 223.6,631.9 224.5,631.7 C225.4,631.4 226.8,631.4 227.8,631.0 C228.9,630.6 230.1,629.9 231.2,629.3 C232.2,628.8 233.6,628.4 234.5,627.7 C235.4,627.0 236.2,625.7 237.0,625.0 C237.8,624.3 238.8,623.7 239.5,623.0 C240.2,622.3 241.0,621.1 241.7,620.5 C242.3,619.9 243.0,619.3 243.7,619.2 C244.3,619.0 245.0,619.5 245.7,619.7 C246.3,619.8 247.1,619.9 247.8,620.0 C248.5,620.1 249.4,619.7 250.0,620.0 C250.6,620.3 251.1,621.2 251.7,622.2 C252.3,623.2 253.0,625.1 253.7,626.3 C254.3,627.6 255.0,629.1 255.7,630.0 C256.3,630.9 257.1,631.5 257.8,632.2 C258.6,632.9 259.5,633.7 260.3,634.3 C261.1,634.9 261.8,635.4 262.8,636.0 C263.9,636.6 265.8,637.4 267.0,638.0 C268.2,638.6 269.3,639.3 270.3,639.8 C271.4,640.3 272.3,640.7 273.7,641.2 C275.0,641.6 277.1,642.4 278.7,642.8 C280.3,643.3 281.8,643.6 283.7,644.0 C285.5,644.4 288.2,644.8 290.3,645.2 C292.5,645.5 294.9,645.8 297.0,646.0 C299.1,646.2 301.5,646.5 303.7,646.7 C305.8,646.9 306.5,647.0 310.3,647.2 C314.1,647.4 324.8,647.7 327.5,647.8" stroke="#000" stroke-width="1.5" fill="none" stroke-linejoin="round" stroke-linecap="round"/>
<path d="M98.0,644.7 C98.5,644.5 100.3,643.6 101.3,643.5 C102.4,643.4 103.6,644.2 104.7,643.8 C105.7,643.5 107.1,642.3 108.0,641.3 C108.9,640.4 109.8,639.2 110.5,638.0 C111.2,636.8 112.0,635.0 112.7,633.8 C113.3,632.7 114.1,631.1 114.7,630.8 C115.3,630.6 115.7,631.5 116.3,632.2 C116.9,632.8 117.7,634.7 118.3,635.0 C119.0,635.3 119.8,634.3 120.5,633.8 C121.2,633.3 122.0,632.0 122.7,631.8 C123.3,631.7 123.9,632.6 124.7,633.0 C125.4,633.4 126.4,634.2 127.2,634.3 C128.0,634.5 128.9,634.2 129.7,633.8 C130.5,633.5 131.4,632.7 132.2,632.2 C132.9,631.6 133.7,630.8 134.3,630.5 C134.9,630.2 135.4,629.9 136.0,630.0 C136.6,630.1 137.1,631.0 138.0,631.3 C138.9,631.7 140.3,631.8 141.3,632.2 C142.4,632.5 143.6,633.0 144.7,633.3 C145.7,633.7 147.0,634.1 148.0,634.3 C149.0,634.5 150.1,634.7 151.0,634.7 C151.9,634.6 153.0,634.1 153.8,633.8 C154.6,633.6 155.3,633.0 156.0,633.0 C156.7,633.0 157.5,633.4 158.3,633.8 C159.1,634.2 160.1,635.0 161.0,635.5 C161.9,636.0 163.0,636.9 163.8,637.2 C164.7,637.5 165.5,637.4 166.3,637.3 C167.2,637.3 168.4,636.6 169.3,636.7 C170.3,636.7 171.3,637.3 172.2,637.5 C173.0,637.7 173.9,637.9 174.7,637.7 C175.5,637.5 176.4,636.8 177.2,636.3 C178.0,635.9 178.9,635.3 179.7,635.0 C180.5,634.7 181.4,634.4 182.2,634.3 C183.0,634.3 183.7,634.7 184.7,634.7 C185.6,634.6 187.1,634.3 188.0,633.8 C188.9,633.4 189.7,632.5 190.5,631.7 C191.3,630.9 192.2,629.9 193.0,628.8 C193.8,627.8 194.7,626.2 195.5,625.0 C196.3,623.8 197.2,622.3 198.0,621.3 C198.8,620.3 199.8,619.3 200.5,618.8 C201.2,618.4 201.5,618.2 202.2,618.5 C202.8,618.8 203.9,620.0 204.7,620.5 C205.4,621.0 206.1,620.8 207.0,621.3 C207.9,621.9 209.3,623.1 210.3,623.8 C211.4,624.6 212.6,625.3 213.7,626.0 C214.7,626.7 216.2,627.9 217.0,628.3 C217.8,628.8 217.9,629.0 218.7,628.8 C219.5,628.7 220.9,627.9 222.0,627.5 C223.1,627.1 224.3,626.7 225.3,626.3 C226.4,626.0 227.6,625.5 228.7,625.2 C229.7,624.8 230.9,624.6 232.0,624.3 C233.1,624.1 234.3,623.7 235.3,623.5 C236.4,623.3 237.7,622.9 238.7,623.0 C239.6,623.1 240.4,623.8 241.2,624.3 C242.0,624.9 242.7,625.9 243.7,626.3 C244.6,626.7 245.9,626.5 247.0,626.8 C248.1,627.2 249.4,627.9 250.3,628.5 C251.3,629.1 252.0,630.1 252.8,630.5 C253.6,630.9 254.5,631.0 255.3,631.0 C256.1,631.0 257.0,630.3 257.8,630.5 C258.6,630.7 259.4,631.4 260.3,632.2 C261.3,632.9 262.6,634.1 263.7,635.0 C264.7,635.9 265.9,636.9 267.0,637.7 C268.1,638.4 269.3,639.1 270.3,639.7 C271.4,640.2 272.3,640.5 273.7,641.0 C275.0,641.5 277.1,642.2 278.7,642.7 C280.3,643.1 281.8,643.5 283.7,643.8 C285.5,644.2 288.2,644.7 290.3,645.0 C292.5,645.3 294.9,645.6 297.0,645.8 C299.1,646.1 301.5,646.3 303.7,646.5 C305.8,646.7 308.4,646.9 310.3,647.0 C312.3,647.1 313.3,647.2 316.0,647.3 C318.7,647.4 325.7,647.6 327.5,647.7" stroke="#f00" stroke-width="2.7" fill="none" stroke-linejoin="round" stroke-linecap="round"/>
</g>
<text x="92.0" y="652.8" font-size="14.5" text-anchor="end">0</text>
<text x="92.0" y="635.8" font-size="14.5" text-anchor="end">50</text>
<text x="92.0" y="618.8" font-size="14.5" text-anchor="end">100</text>
<text x="92.0" y="601.8" font-size="14.5" text-anchor="end">150</text>
<path d="M98.3,598.4 L98.3,648.4 L326.9,648.4 M98.3,648.4 h-4.5 M98.3,645.1 h-2.4 M98.3,641.7 h-2.4 M98.3,638.4 h-2.4 M98.3,635.1 h-2.4 M98.3,631.7 h-4.5 M98.3,628.4 h-2.4 M98.3,625.1 h-2.4 M98.3,621.7 h-2.4 M98.3,618.4 h-2.4 M98.3,615.1 h-4.5 M98.3,611.7 h-2.4 M98.3,608.4 h-2.4 M98.3,605.1 h-2.4 M98.3,601.7 h-2.4 M98.3,598.4 h-4.5 M98.3,648.4 v2.6 M104.0,648.4 v2.6 M109.7,648.4 v2.6 M115.4,648.4 v2.6 M121.2,648.4 v2.6 M126.9,648.4 v4.8 M132.6,648.4 v2.6 M138.3,648.4 v2.6 M144.0,648.4 v2.6 M149.7,648.4 v2.6 M155.4,648.4 v2.6 M161.2,648.4 v2.6 M166.9,648.4 v2.6 M172.6,648.4 v2.6 M178.3,648.4 v2.6 M184.0,648.4 v4.8 M189.7,648.4 v2.6 M195.5,648.4 v2.6 M201.2,648.4 v2.6 M206.9,648.4 v2.6 M212.6,648.4 v2.6 M218.3,648.4 v2.6 M224.0,648.4 v2.6 M229.7,648.4 v2.6 M235.5,648.4 v2.6 M241.2,648.4 v4.8 M246.9,648.4 v2.6 M252.6,648.4 v2.6 M258.3,648.4 v2.6 M264.0,648.4 v2.6 M269.8,648.4 v2.6 M275.5,648.4 v2.6 M281.2,648.4 v2.6 M286.9,648.4 v2.6 M292.6,648.4 v2.6 M298.3,648.4 v4.8 M304.0,648.4 v2.6 M309.8,648.4 v2.6 M315.5,648.4 v2.6 M321.2,648.4 v2.6 M326.9,648.4 v2.6" stroke="#111" stroke-width="1.0" fill="none"/>
<clipPath id="cr2"><rect x="358.8" y="593.4" width="232.3" height="58.0"/></clipPath>
<g clip-path="url(#cr2)">
<path d="M359.8,648.0 C362.7,648.0 373.5,647.9 378.0,647.8 C382.5,647.7 385.3,647.5 388.0,647.3 C390.7,647.1 392.9,647.0 394.7,646.7 C396.4,646.3 397.8,645.7 398.8,645.0 C399.9,644.3 400.6,643.2 401.3,642.2 C402.1,641.1 402.7,639.5 403.3,638.5 C404.0,637.5 404.9,636.3 405.5,636.0 C406.1,635.7 406.6,635.9 407.2,636.7 C407.8,637.4 408.7,639.8 409.3,640.5 C410.0,641.2 410.7,641.7 411.3,641.3 C412.0,640.9 412.7,639.1 413.3,638.0 C414.0,636.9 414.9,635.3 415.5,634.7 C416.1,634.1 416.6,633.8 417.2,634.2 C417.8,634.5 418.7,636.0 419.3,636.7 C420.0,637.3 420.7,638.4 421.3,638.3 C422.0,638.2 422.7,636.5 423.3,636.0 C423.9,635.5 424.4,635.2 425.0,635.5 C425.6,635.8 426.5,637.4 427.2,637.7 C427.9,637.9 428.7,637.4 429.3,637.2 C429.9,637.0 430.4,636.1 431.0,636.3 C431.6,636.6 432.4,638.1 433.0,638.8 C433.6,639.6 434.3,640.7 435.0,641.0 C435.7,641.3 436.6,640.7 437.2,640.5 C437.8,640.3 438.2,639.5 438.8,639.7 C439.4,639.9 440.2,641.4 441.0,641.8 C441.8,642.3 442.8,642.5 443.8,642.7 C444.8,642.9 446.1,642.9 447.2,643.0 C448.2,643.1 449.4,643.2 450.5,643.0 C451.6,642.8 452.9,642.2 453.8,641.8 C454.8,641.4 455.5,640.7 456.3,640.5 C457.1,640.3 458.0,640.6 458.8,640.5 C459.6,640.4 460.5,640.1 461.3,640.2 C462.1,640.2 462.9,640.8 463.8,641.0 C464.7,641.2 466.0,641.7 467.0,641.7 C468.0,641.6 469.3,641.2 470.3,640.7 C471.4,640.1 472.6,638.8 473.7,638.3 C474.7,637.9 475.9,638.2 477.0,638.0 C478.1,637.8 479.3,637.4 480.3,637.2 C481.4,637.0 482.6,636.9 483.7,636.7 C484.7,636.5 486.1,636.5 487.0,636.0 C487.9,635.5 488.7,634.2 489.5,633.8 C490.3,633.4 491.2,633.9 492.0,633.5 C492.8,633.1 493.7,632.0 494.5,631.3 C495.3,630.6 496.2,629.6 497.0,629.2 C497.8,628.7 498.7,628.7 499.5,628.3 C500.3,628.0 501.2,627.6 502.0,627.2 C502.8,626.7 503.7,626.2 504.5,625.5 C505.3,624.8 506.2,623.6 507.0,622.7 C507.8,621.7 508.8,620.7 509.5,619.7 C510.2,618.7 511.0,617.3 511.7,616.3 C512.3,615.4 513.0,614.4 513.7,613.8 C514.3,613.2 515.1,612.8 515.7,612.7 C516.3,612.5 516.8,613.3 517.3,613.0 C517.9,612.7 518.5,611.0 519.0,610.5 C519.5,610.0 519.9,609.4 520.3,609.7 C520.8,609.9 521.5,610.8 522.0,612.2 C522.5,613.5 522.9,616.1 523.3,618.0 C523.7,619.9 524.0,622.4 524.5,623.8 C525.0,625.3 525.6,626.3 526.2,627.2 C526.7,628.0 527.2,628.7 527.8,629.3 C528.5,629.9 529.5,630.5 530.3,631.0 C531.1,631.5 532.0,631.9 532.8,632.7 C533.6,633.4 534.5,634.6 535.3,635.5 C536.1,636.4 537.0,637.3 537.8,638.0 C538.6,638.7 539.5,639.3 540.3,639.7 C541.1,640.0 541.8,639.9 542.8,640.2 C543.9,640.5 545.7,641.1 547.0,641.5 C548.3,641.9 549.8,642.2 551.2,642.5 C552.5,642.8 553.9,643.2 555.3,643.5 C556.8,643.8 558.7,644.2 560.3,644.5 C561.9,644.8 563.7,645.4 565.3,645.7 C566.9,645.9 566.5,645.9 570.3,646.2 C574.1,646.4 586.0,647.0 589.0,647.2" stroke="#000" stroke-width="1.5" fill="none" stroke-linejoin="round" stroke-linecap="round"/>
<path d="M359.8,647.8 C361.1,647.8 365.6,647.6 368.0,647.5 C370.4,647.4 372.8,647.2 374.7,647.0 C376.5,646.8 378.3,646.4 379.7,646.0 C381.0,645.6 382.1,644.8 383.0,644.3 C383.9,643.9 384.7,643.3 385.5,643.0 C386.3,642.7 387.2,642.6 388.0,642.5 C388.8,642.4 389.7,643.0 390.5,642.7 C391.3,642.3 392.2,641.4 393.0,640.5 C393.8,639.6 394.8,638.5 395.5,637.2 C396.2,635.8 396.9,633.5 397.5,632.2 C398.1,630.8 398.8,629.3 399.3,628.8 C399.9,628.4 400.5,628.7 401.0,629.3 C401.5,629.9 402.1,632.5 402.7,632.7 C403.3,632.9 404.0,631.3 404.7,630.5 C405.3,629.7 406.0,627.9 406.7,627.7 C407.3,627.4 408.1,628.1 408.8,628.8 C409.5,629.6 410.3,631.8 411.0,632.2 C411.7,632.5 412.6,631.6 413.3,631.0 C414.1,630.4 414.8,628.9 415.5,628.3 C416.2,627.8 417.0,627.5 417.7,627.5 C418.3,627.5 419.0,627.7 419.7,628.3 C420.3,628.9 421.0,630.6 421.7,631.3 C422.3,632.1 423.1,632.6 423.8,633.0 C424.6,633.4 425.5,633.6 426.3,633.8 C427.1,634.0 428.0,634.2 428.8,634.2 C429.6,634.2 430.5,634.1 431.3,633.8 C432.1,633.6 433.1,633.0 433.8,632.7 C434.6,632.3 435.3,631.8 436.0,631.7 C436.7,631.5 437.6,631.6 438.3,631.8 C439.1,632.0 439.8,632.4 440.5,633.0 C441.2,633.6 442.2,634.9 443.0,635.5 C443.8,636.1 444.7,636.6 445.5,636.7 C446.3,636.7 447.2,635.9 448.0,636.0 C448.8,636.1 449.7,636.8 450.5,637.2 C451.3,637.5 452.2,638.0 453.0,638.0 C453.8,638.0 454.7,637.5 455.5,637.2 C456.3,636.8 457.2,636.3 458.0,636.0 C458.8,635.7 459.7,635.7 460.5,635.5 C461.3,635.3 462.2,635.3 463.0,635.0 C463.8,634.7 464.9,634.2 465.5,633.8 C466.1,633.5 466.4,633.5 467.0,633.0 C467.6,632.5 468.3,631.7 469.0,630.5 C469.7,629.3 470.5,627.1 471.2,625.5 C471.9,623.9 472.7,622.0 473.3,620.5 C474.0,619.0 474.7,617.4 475.3,616.3 C476.0,615.3 476.7,614.1 477.3,613.8 C478.0,613.6 478.8,614.5 479.5,614.7 C480.2,614.8 481.0,614.3 481.7,614.7 C482.3,615.0 482.9,616.0 483.7,616.7 C484.4,617.3 485.4,618.0 486.2,618.8 C487.0,619.7 487.9,621.2 488.7,622.2 C489.5,623.2 490.4,624.6 491.2,625.2 C492.0,625.8 492.9,625.9 493.7,625.8 C494.5,625.8 495.4,625.1 496.2,624.7 C497.0,624.3 497.9,623.7 498.7,623.3 C499.5,623.0 500.4,622.8 501.2,622.5 C502.0,622.2 502.9,622.0 503.7,621.7 C504.5,621.3 505.4,621.0 506.2,620.5 C507.0,620.0 507.9,618.9 508.7,618.3 C509.5,617.8 510.4,617.1 511.2,617.2 C511.9,617.2 512.6,618.1 513.3,618.5 C514.1,618.9 514.9,619.4 515.7,619.7 C516.4,619.9 517.1,619.7 517.8,620.0 C518.6,620.3 519.5,620.8 520.3,621.3 C521.1,621.9 522.0,622.9 522.8,623.5 C523.6,624.1 524.7,625.1 525.3,625.2 C526.0,625.2 526.5,624.1 527.0,623.8 C527.5,623.6 528.1,623.2 528.7,623.5 C529.2,623.8 529.7,624.5 530.3,625.5 C530.9,626.5 531.7,628.5 532.3,629.7 C533.0,630.9 533.8,632.1 534.5,633.0 C535.2,633.9 536.1,634.4 537.0,635.2 C537.9,635.9 539.3,636.8 540.3,637.5 C541.4,638.2 542.6,639.1 543.7,639.7 C544.7,640.3 545.8,640.9 547.0,641.3 C548.2,641.8 549.8,642.0 551.2,642.3 C552.5,642.7 553.9,643.0 555.3,643.3 C556.8,643.7 558.7,644.0 560.3,644.3 C561.9,644.7 563.7,645.2 565.3,645.5 C566.9,645.8 568.6,645.9 570.3,646.0 C572.0,646.1 573.0,646.2 576.0,646.3 C579.0,646.5 586.9,646.9 589.0,647.0" stroke="#f00" stroke-width="2.7" fill="none" stroke-linejoin="round" stroke-linecap="round"/>
</g>
<text x="353.5" y="652.8" font-size="14.5" text-anchor="end">0</text>
<text x="353.5" y="635.8" font-size="14.5" text-anchor="end">10</text>
<text x="353.5" y="618.8" font-size="14.5" text-anchor="end">20</text>
<text x="353.5" y="601.8" font-size="14.5" text-anchor="end">30</text>
<path d="M359.8,598.4 L359.8,648.4 L589.1,648.4 M359.8,648.4 h-4.5 M359.8,640.1 h-2.4 M359.8,631.7 h-4.5 M359.8,623.4 h-2.4 M359.8,615.1 h-4.5 M359.8,606.7 h-2.4 M359.8,598.4 h-4.5 M359.8,648.4 v4.8 M364.9,648.4 v2.6 M370.0,648.4 v2.6 M375.1,648.4 v2.6 M380.2,648.4 v2.6 M385.3,648.4 v2.6 M390.4,648.4 v2.6 M395.5,648.4 v2.6 M400.6,648.4 v2.6 M405.7,648.4 v2.6 M410.8,648.4 v4.8 M415.8,648.4 v2.6 M420.9,648.4 v2.6 M426.0,648.4 v2.6 M431.1,648.4 v2.6 M436.2,648.4 v2.6 M441.3,648.4 v2.6 M446.4,648.4 v2.6 M451.5,648.4 v2.6 M456.6,648.4 v2.6 M461.7,648.4 v4.8 M466.8,648.4 v2.6 M471.9,648.4 v2.6 M477.0,648.4 v2.6 M482.1,648.4 v2.6 M487.2,648.4 v2.6 M492.3,648.4 v2.6 M497.4,648.4 v2.6 M502.5,648.4 v2.6 M507.6,648.4 v2.6 M512.6,648.4 v4.8 M517.7,648.4 v2.6 M522.8,648.4 v2.6 M527.9,648.4 v2.6 M533.0,648.4 v2.6 M538.1,648.4 v2.6 M543.2,648.4 v2.6 M548.3,648.4 v2.6 M553.4,648.4 v2.6 M558.5,648.4 v2.6 M563.6,648.4 v4.8 M568.7,648.4 v2.6 M573.8,648.4 v2.6 M578.9,648.4 v2.6 M584.0,648.4 v2.6 M589.1,648.4 v2.6" stroke="#111" stroke-width="1.0" fill="none"/>
<clipPath id="cl3"><rect x="97.3" y="665.2" width="231.6" height="58.0"/></clipPath>
<g clip-path="url(#cl3)">
<path d="M98.0,719.2 C99.3,719.2 103.9,719.2 106.3,719.2 C108.7,719.1 111.3,719.0 113.0,718.8 C114.7,718.6 116.1,718.3 117.2,718.0 C118.2,717.7 118.9,717.3 119.7,716.7 C120.5,716.1 121.4,715.0 122.2,714.2 C122.9,713.4 123.7,712.1 124.3,711.7 C124.9,711.3 125.4,711.5 126.0,711.7 C126.6,711.9 127.3,712.7 128.0,713.0 C128.7,713.3 129.8,713.4 130.5,713.3 C131.2,713.3 132.0,712.9 132.7,712.5 C133.3,712.1 133.9,711.2 134.7,710.8 C135.4,710.4 136.4,710.0 137.2,710.0 C138.0,710.0 138.9,710.6 139.7,710.8 C140.5,711.0 141.4,711.3 142.2,711.3 C143.0,711.3 143.9,710.8 144.7,710.8 C145.5,710.8 146.4,711.4 147.2,711.3 C148.0,711.3 148.9,710.8 149.7,710.3 C150.5,709.9 151.5,708.9 152.2,708.7 C152.8,708.4 153.3,708.3 153.8,708.7 C154.4,709.0 154.9,710.1 155.5,710.8 C156.1,711.5 156.9,712.6 157.7,713.0 C158.4,713.4 159.3,713.4 160.0,713.3 C160.7,713.3 161.6,713.0 162.2,712.5 C162.8,712.0 163.2,710.1 163.8,710.0 C164.5,709.9 165.5,711.3 166.3,712.0 C167.1,712.7 168.0,713.7 168.8,714.2 C169.6,714.6 170.5,714.8 171.3,715.0 C172.1,715.2 173.0,715.4 173.8,715.5 C174.6,715.6 175.5,715.8 176.3,715.8 C177.1,715.8 178.0,715.7 178.8,715.5 C179.6,715.3 180.5,714.8 181.3,714.7 C182.1,714.5 183.0,714.6 183.8,714.5 C184.6,714.4 185.5,714.1 186.3,714.2 C187.1,714.2 188.0,714.5 188.8,714.7 C189.6,714.9 190.5,715.2 191.3,715.3 C192.1,715.5 193.0,715.6 193.8,715.5 C194.6,715.4 195.5,715.2 196.3,715.0 C197.1,714.8 198.0,714.4 198.8,714.2 C199.6,713.9 200.5,713.5 201.3,713.3 C202.1,713.2 202.9,713.2 203.8,713.3 C204.7,713.5 205.7,714.2 207.0,714.2 C208.3,714.2 210.4,713.6 212.0,713.3 C213.6,713.1 215.4,712.8 217.0,712.5 C218.6,712.2 220.5,711.7 222.0,711.3 C223.5,710.9 224.8,710.5 226.2,710.0 C227.5,709.5 229.0,708.4 230.3,708.0 C231.7,707.6 233.2,707.8 234.5,707.5 C235.8,707.2 237.3,706.7 238.7,706.3 C240.0,706.0 241.5,705.6 242.8,705.3 C244.2,705.1 245.7,704.9 247.0,704.7 C248.3,704.4 250.0,704.1 251.2,703.8 C252.4,703.6 253.6,703.1 254.5,703.0 C255.4,702.9 256.2,703.5 257.0,703.3 C257.8,703.2 258.8,702.8 259.5,702.0 C260.2,701.2 260.6,699.6 261.2,698.3 C261.7,697.1 262.2,695.1 262.8,694.2 C263.4,693.2 264.2,692.6 264.8,692.5 C265.4,692.4 266.1,692.8 266.7,693.3 C267.2,693.9 267.8,694.9 268.3,695.8 C268.9,696.8 269.4,698.4 270.0,699.2 C270.6,700.0 271.5,700.3 272.3,700.8 C273.2,701.4 274.5,701.9 275.3,702.5 C276.2,703.1 277.0,704.0 277.8,704.7 C278.6,705.3 279.5,706.1 280.3,706.7 C281.1,707.3 281.8,707.7 282.8,708.3 C283.9,708.9 285.8,709.9 287.0,710.5 C288.2,711.1 289.3,711.4 290.3,711.8 C291.4,712.2 292.5,712.7 293.7,713.0 C294.9,713.3 296.4,713.7 297.8,714.0 C299.3,714.3 301.1,714.6 302.8,714.8 C304.6,715.1 306.6,715.4 308.7,715.7 C310.8,715.9 313.0,716.2 316.0,716.5 C319.0,716.8 325.7,717.2 327.5,717.3" stroke="#000" stroke-width="1.5" fill="none" stroke-linejoin="round" stroke-linecap="round"/>
<path d="M98.0,717.2 C98.5,717.0 100.3,716.2 101.3,715.8 C102.4,715.5 103.6,715.1 104.7,715.0 C105.7,714.9 106.9,715.1 108.0,715.0 C109.1,714.9 110.4,714.6 111.3,714.2 C112.3,713.7 113.1,713.1 113.8,712.2 C114.6,711.2 115.4,709.7 116.0,708.3 C116.6,706.9 117.1,704.7 117.7,703.3 C118.2,701.9 118.7,699.9 119.3,699.5 C119.9,699.1 120.6,700.3 121.3,700.8 C122.1,701.4 123.0,702.5 123.8,703.0 C124.6,703.5 125.5,703.3 126.3,703.7 C127.1,704.0 128.0,704.6 128.8,705.0 C129.6,705.4 130.5,706.1 131.3,706.3 C132.1,706.5 133.0,706.4 133.8,706.2 C134.6,705.9 135.5,704.9 136.3,704.7 C137.1,704.5 138.0,705.1 138.8,705.0 C139.6,704.9 140.5,704.3 141.3,704.3 C142.1,704.3 143.0,704.8 143.8,705.0 C144.6,705.2 145.5,705.5 146.3,705.8 C147.1,706.2 148.0,706.8 148.8,707.2 C149.6,707.6 150.5,708.2 151.3,708.3 C152.1,708.5 153.0,708.2 153.8,708.0 C154.6,707.8 155.5,707.4 156.3,707.2 C157.1,707.0 157.9,706.8 158.8,706.7 C159.8,706.5 161.2,706.3 162.2,706.2 C163.1,706.1 163.7,705.9 164.7,706.0 C165.6,706.1 166.9,706.7 168.0,707.0 C169.1,707.3 170.3,707.7 171.3,708.0 C172.4,708.3 173.6,708.4 174.7,708.7 C175.7,708.9 176.9,709.5 178.0,709.7 C179.1,709.8 180.3,709.7 181.3,709.7 C182.4,709.6 183.6,709.4 184.7,709.3 C185.7,709.3 186.9,709.4 188.0,709.5 C189.1,709.6 190.3,710.1 191.3,710.0 C192.4,709.9 193.7,709.2 194.7,708.8 C195.6,708.4 196.4,707.7 197.2,707.5 C198.0,707.3 198.9,708.1 199.7,707.8 C200.5,707.6 201.4,706.7 202.2,705.8 C203.0,705.0 203.9,703.2 204.7,702.5 C205.4,701.8 206.2,701.7 207.0,701.3 C207.8,700.9 208.7,700.6 209.5,700.0 C210.3,699.4 211.3,698.2 212.0,697.5 C212.7,696.8 213.4,696.2 214.0,695.8 C214.6,695.5 215.1,695.3 215.7,695.3 C216.3,695.4 217.1,696.0 217.8,696.3 C218.6,696.7 219.5,697.0 220.3,697.5 C221.1,698.0 222.0,698.8 222.8,699.2 C223.6,699.6 224.4,699.7 225.3,700.0 C226.3,700.3 227.6,700.6 228.7,700.8 C229.7,701.1 230.9,701.6 232.0,701.7 C233.1,701.7 234.3,701.3 235.3,701.2 C236.4,701.0 237.6,700.8 238.7,700.8 C239.7,700.8 240.9,701.2 242.0,701.2 C243.1,701.2 244.3,700.9 245.3,700.8 C246.4,700.7 247.6,700.6 248.7,700.5 C249.7,700.4 250.9,700.4 252.0,700.3 C253.1,700.3 254.3,700.1 255.3,700.0 C256.4,699.9 257.8,699.6 258.7,699.5 C259.5,699.4 260.0,699.0 260.7,699.2 C261.3,699.4 262.1,700.3 262.8,700.8 C263.6,701.4 264.5,702.3 265.3,702.5 C266.1,702.7 267.0,702.3 267.8,702.0 C268.6,701.7 269.6,701.0 270.3,700.8 C271.1,700.6 271.7,700.5 272.3,700.8 C273.0,701.2 273.8,702.3 274.5,703.0 C275.2,703.7 276.1,704.6 277.0,705.3 C277.9,706.1 279.3,706.9 280.3,707.5 C281.4,708.1 282.6,708.7 283.7,709.2 C284.7,709.6 285.9,709.9 287.0,710.3 C288.1,710.7 289.3,711.3 290.3,711.7 C291.4,712.1 292.5,712.5 293.7,712.8 C294.9,713.2 296.4,713.5 297.8,713.8 C299.3,714.1 301.1,714.4 302.8,714.7 C304.6,714.9 306.6,715.2 308.7,715.5 C310.8,715.8 313.0,716.1 316.0,716.3 C319.0,716.6 325.7,717.0 327.5,717.2" stroke="#f00" stroke-width="2.7" fill="none" stroke-linejoin="round" stroke-linecap="round"/>
<g fill="#00f"><circle cx="98.0" cy="718.7" r="1.55"/><circle cx="103.5" cy="718.0" r="1.55"/><circle cx="108.5" cy="715.0" r="1.55"/><circle cx="112.2" cy="709.2" r="1.55"/><circle cx="114.2" cy="703.3" r="1.55"/><circle cx="117.2" cy="697.5" r="1.55"/><circle cx="122.7" cy="696.3" r="1.55"/><circle cx="127.2" cy="700.0" r="1.55"/><circle cx="132.2" cy="702.5" r="1.55"/><circle cx="136.7" cy="706.7" r="1.55"/><circle cx="141.3" cy="706.7" r="1.55"/><circle cx="146.8" cy="707.5" r="1.55"/><circle cx="152.5" cy="706.3" r="1.55"/><circle cx="157.2" cy="708.7" r="1.55"/><circle cx="162.2" cy="710.3" r="1.55"/><circle cx="167.2" cy="713.7" r="1.55"/><circle cx="173.0" cy="713.7" r="1.55"/><circle cx="178.8" cy="713.3" r="1.55"/><circle cx="184.7" cy="712.8" r="1.55"/><circle cx="190.8" cy="712.5" r="1.55"/><circle cx="196.8" cy="712.2" r="1.55"/><circle cx="202.5" cy="710.3" r="1.55"/><circle cx="207.0" cy="709.7" r="1.55"/><circle cx="211.7" cy="710.3" r="1.55"/><circle cx="217.3" cy="709.7" r="1.55"/><circle cx="222.8" cy="708.0" r="1.55"/><circle cx="228.2" cy="705.8" r="1.55"/><circle cx="233.7" cy="703.7" r="1.55"/><circle cx="239.2" cy="702.5" r="1.55"/><circle cx="244.5" cy="699.7" r="1.55"/><circle cx="249.2" cy="695.3" r="1.55"/><circle cx="254.5" cy="692.5" r="1.55"/><circle cx="259.2" cy="690.8" r="1.55"/><circle cx="263.7" cy="695.0" r="1.55"/><circle cx="267.3" cy="700.0" r="1.55"/><circle cx="272.8" cy="704.2" r="1.55"/><circle cx="278.2" cy="706.7" r="1.55"/><circle cx="283.3" cy="709.2" r="1.55"/><circle cx="288.7" cy="711.3" r="1.55"/><circle cx="294.0" cy="713.0" r="1.55"/><circle cx="299.5" cy="714.2" r="1.55"/><circle cx="305.3" cy="715.0" r="1.55"/><circle cx="311.2" cy="715.8" r="1.55"/><circle cx="316.0" cy="716.3" r="1.55"/><circle cx="321.5" cy="716.8" r="1.55"/><circle cx="327.0" cy="717.2" r="1.55"/></g>
</g>
<text x="92.0" y="724.6" font-size="14.5" text-anchor="end">0</text>
<text x="92.0" y="707.6" font-size="14.5" text-anchor="end">50</text>
<text x="92.0" y="690.6" font-size="14.5" text-anchor="end">100</text>
<text x="92.0" y="673.6" font-size="14.5" text-anchor="end">150</text>
<path d="M98.3,670.2 L98.3,720.2 L326.9,720.2 M98.3,720.2 h-4.5 M98.3,716.9 h-2.4 M98.3,713.5 h-2.4 M98.3,710.2 h-2.4 M98.3,706.9 h-2.4 M98.3,703.5 h-4.5 M98.3,700.2 h-2.4 M98.3,696.9 h-2.4 M98.3,693.5 h-2.4 M98.3,690.2 h-2.4 M98.3,686.9 h-4.5 M98.3,683.5 h-2.4 M98.3,680.2 h-2.4 M98.3,676.9 h-2.4 M98.3,673.5 h-2.4 M98.3,670.2 h-4.5 M98.3,720.2 v2.6 M104.0,720.2 v2.6 M109.7,720.2 v2.6 M115.4,720.2 v2.6 M121.2,720.2 v2.6 M126.9,720.2 v4.8 M132.6,720.2 v2.6 M138.3,720.2 v2.6 M144.0,720.2 v2.6 M149.7,720.2 v2.6 M155.4,720.2 v2.6 M161.2,720.2 v2.6 M166.9,720.2 v2.6 M172.6,720.2 v2.6 M178.3,720.2 v2.6 M184.0,720.2 v4.8 M189.7,720.2 v2.6 M195.5,720.2 v2.6 M201.2,720.2 v2.6 M206.9,720.2 v2.6 M212.6,720.2 v2.6 M218.3,720.2 v2.6 M224.0,720.2 v2.6 M229.7,720.2 v2.6 M235.5,720.2 v2.6 M241.2,720.2 v4.8 M246.9,720.2 v2.6 M252.6,720.2 v2.6 M258.3,720.2 v2.6 M264.0,720.2 v2.6 M269.8,720.2 v2.6 M275.5,720.2 v2.6 M281.2,720.2 v2.6 M286.9,720.2 v2.6 M292.6,720.2 v2.6 M298.3,720.2 v4.8 M304.0,720.2 v2.6 M309.8,720.2 v2.6 M315.5,720.2 v2.6 M321.2,720.2 v2.6 M326.9,720.2 v2.6" stroke="#111" stroke-width="1.0" fill="none"/>
<clipPath id="cr3"><rect x="358.8" y="666.8" width="232.3" height="58.0"/></clipPath>
<g clip-path="url(#cr3)">
<path d="M359.8,721.5 C363.5,721.5 377.4,721.4 383.0,721.3 C388.6,721.2 391.9,721.0 394.7,720.8 C397.5,720.6 399.0,720.5 400.5,720.0 C402.0,719.5 402.9,718.9 403.8,718.0 C404.8,717.1 405.7,715.7 406.3,714.7 C407.0,713.7 407.5,712.3 408.0,711.7 C408.5,711.0 409.1,710.4 409.7,710.5 C410.2,710.6 410.7,711.7 411.3,712.2 C412.0,712.7 413.1,713.5 413.8,713.7 C414.6,713.8 415.3,713.5 416.0,713.0 C416.7,712.5 417.4,711.4 418.0,710.8 C418.6,710.3 419.3,709.7 420.0,709.7 C420.7,709.6 421.4,710.1 422.2,710.3 C422.9,710.6 423.9,711.1 424.7,711.2 C425.5,711.2 426.4,710.7 427.2,710.5 C428.0,710.3 428.9,709.7 429.7,709.7 C430.5,709.7 431.4,710.2 432.2,710.5 C433.0,710.8 433.9,710.9 434.7,711.3 C435.4,711.8 436.0,712.8 436.7,713.3 C437.3,713.9 438.2,714.5 438.8,714.7 C439.4,714.9 439.9,715.1 440.5,714.7 C441.1,714.3 442.1,712.8 442.7,712.2 C443.3,711.5 443.8,710.5 444.3,710.5 C444.9,710.5 445.4,711.4 446.0,712.2 C446.6,712.9 447.3,714.3 448.0,715.0 C448.7,715.7 449.6,716.3 450.5,716.7 C451.4,717.1 452.8,717.5 453.8,717.5 C454.9,717.5 456.1,716.9 457.2,716.7 C458.2,716.4 459.4,716.1 460.5,715.8 C461.6,715.6 462.8,714.9 463.8,715.0 C464.9,715.1 466.0,716.4 467.0,716.7 C468.0,716.9 469.3,716.9 470.3,716.7 C471.4,716.5 472.7,715.7 473.7,715.3 C474.6,714.9 475.4,714.4 476.2,714.2 C477.0,714.0 477.9,714.0 478.7,714.2 C479.5,714.3 480.4,714.9 481.2,715.0 C482.0,715.1 482.7,714.6 483.7,714.5 C484.6,714.4 485.9,714.3 487.0,714.2 C488.1,714.0 489.3,713.9 490.3,713.7 C491.4,713.5 492.6,713.1 493.7,712.8 C494.7,712.6 495.9,712.4 497.0,712.0 C498.1,711.6 499.4,710.9 500.3,710.3 C501.3,709.7 502.0,708.8 502.8,708.3 C503.6,707.9 504.5,707.7 505.3,707.5 C506.1,707.3 507.0,707.3 507.8,707.0 C508.6,706.7 509.4,706.2 510.3,705.8 C511.3,705.4 512.6,704.8 513.7,704.5 C514.7,704.2 515.9,704.1 517.0,703.7 C518.1,703.3 519.4,702.6 520.3,702.0 C521.3,701.4 522.2,700.4 522.8,700.0 C523.5,699.6 523.9,699.6 524.5,699.7 C525.1,699.7 526.0,700.5 526.7,700.5 C527.3,700.5 528.1,700.3 528.7,699.7 C529.2,699.1 529.6,698.2 530.0,696.7 C530.4,695.1 530.8,691.7 531.2,690.0 C531.5,688.3 531.9,686.6 532.3,685.8 C532.7,685.1 533.2,684.9 533.7,685.3 C534.1,685.7 534.8,686.9 535.3,688.3 C535.9,689.7 536.5,692.6 537.0,694.2 C537.5,695.8 538.0,697.3 538.7,698.3 C539.3,699.4 540.4,700.0 541.2,700.8 C542.0,701.6 542.9,702.5 543.7,703.3 C544.5,704.1 545.4,705.1 546.2,705.8 C547.0,706.6 547.9,707.4 548.7,708.0 C549.5,708.6 550.4,709.3 551.2,709.7 C552.0,710.0 552.7,709.9 553.7,710.3 C554.6,710.8 555.9,711.7 557.0,712.3 C558.1,713.0 559.3,713.9 560.3,714.3 C561.4,714.8 562.6,715.0 563.7,715.2 C564.7,715.4 565.8,715.2 567.0,715.5 C568.2,715.8 569.7,716.4 571.2,716.8 C572.6,717.3 573.1,717.7 576.0,718.2 C578.9,718.6 586.9,719.3 589.0,719.5" stroke="#000" stroke-width="1.5" fill="none" stroke-linejoin="round" stroke-linecap="round"/>
<path d="M359.8,721.3 C361.1,721.3 365.6,721.2 368.0,721.2 C370.4,721.1 372.8,721.1 374.7,721.0 C376.5,720.9 378.3,720.6 379.7,720.3 C381.0,720.1 381.9,719.9 383.0,719.5 C384.1,719.1 385.3,718.4 386.3,718.0 C387.4,717.6 388.6,717.2 389.7,717.0 C390.7,716.8 391.9,717.1 393.0,717.0 C394.1,716.9 395.4,716.7 396.3,716.3 C397.3,716.0 398.1,715.5 398.8,714.7 C399.6,713.8 400.4,712.2 401.0,710.8 C401.6,709.4 402.1,707.3 402.7,705.8 C403.2,704.4 403.8,702.4 404.3,701.7 C404.9,700.9 405.4,701.2 406.0,701.3 C406.6,701.5 407.3,702.2 408.0,702.5 C408.7,702.8 409.7,702.7 410.5,703.0 C411.3,703.3 412.2,704.2 413.0,704.7 C413.8,705.1 414.8,705.9 415.5,705.8 C416.2,705.8 417.0,704.6 417.7,704.2 C418.3,703.8 418.9,703.3 419.7,703.3 C420.4,703.4 421.4,704.5 422.2,704.7 C422.9,704.8 423.7,703.9 424.3,704.2 C425.0,704.4 425.6,705.7 426.3,706.3 C427.1,706.9 428.0,707.5 428.8,708.0 C429.6,708.5 430.5,708.9 431.3,709.2 C432.1,709.4 433.0,709.7 433.8,709.7 C434.6,709.7 435.5,709.4 436.3,709.2 C437.1,708.9 438.0,708.3 438.8,708.0 C439.6,707.7 440.5,707.3 441.3,707.0 C442.1,706.7 443.0,706.4 443.8,706.3 C444.6,706.3 445.5,706.3 446.3,706.7 C447.1,707.0 448.0,707.9 448.8,708.3 C449.6,708.7 450.5,709.0 451.3,709.2 C452.1,709.4 453.0,709.2 453.8,709.5 C454.6,709.8 455.4,710.4 456.3,710.8 C457.3,711.2 458.6,711.8 459.7,712.0 C460.7,712.2 461.8,712.1 463.0,712.0 C464.2,711.9 466.0,711.9 467.0,711.7 C468.0,711.5 468.7,711.2 469.5,710.8 C470.3,710.4 471.2,709.4 472.0,709.2 C472.8,709.0 473.7,710.1 474.5,709.7 C475.3,709.3 476.2,707.8 477.0,706.7 C477.8,705.5 478.7,703.6 479.5,702.5 C480.3,701.4 481.2,700.8 482.0,700.0 C482.8,699.2 483.8,698.6 484.5,697.5 C485.2,696.4 486.0,694.4 486.7,693.3 C487.3,692.3 488.1,691.3 488.7,690.8 C489.3,690.4 489.8,690.1 490.3,690.5 C490.9,690.9 491.3,692.6 492.0,693.3 C492.7,694.1 493.7,694.1 494.5,695.0 C495.3,695.9 496.2,698.0 497.0,698.8 C497.8,699.6 498.7,699.7 499.5,700.0 C500.3,700.3 501.2,700.6 502.0,700.8 C502.8,701.0 503.7,701.3 504.5,701.2 C505.3,701.0 506.2,700.3 507.0,700.0 C507.8,699.7 508.7,699.4 509.5,699.2 C510.3,699.0 511.2,698.8 512.0,698.8 C512.8,698.9 513.7,699.7 514.5,699.5 C515.3,699.3 516.2,698.0 517.0,697.5 C517.8,697.0 518.7,696.8 519.5,696.7 C520.3,696.5 521.2,696.7 522.0,696.7 C522.8,696.6 523.7,696.3 524.5,696.2 C525.3,696.0 526.2,696.0 527.0,695.8 C527.8,695.7 528.8,695.2 529.5,695.3 C530.2,695.5 531.0,696.1 531.7,696.7 C532.3,697.2 533.0,698.3 533.7,698.7 C534.3,699.1 535.0,699.3 535.7,699.2 C536.3,699.1 537.1,698.3 537.8,698.0 C538.5,697.7 539.3,697.2 540.0,697.5 C540.7,697.8 541.4,699.1 542.0,700.0 C542.6,700.9 543.3,702.5 544.0,703.3 C544.7,704.2 545.4,704.8 546.2,705.5 C546.9,706.2 547.9,707.0 548.7,707.5 C549.5,708.0 550.4,708.3 551.2,708.7 C552.0,709.1 552.7,709.4 553.7,710.0 C554.6,710.6 555.9,711.5 557.0,712.2 C558.1,712.8 559.3,713.7 560.3,714.2 C561.4,714.6 562.6,714.8 563.7,715.0 C564.7,715.2 565.8,715.1 567.0,715.3 C568.2,715.6 569.7,716.2 571.2,716.7 C572.6,717.1 573.1,717.6 576.0,718.0 C578.9,718.4 586.9,719.1 589.0,719.3" stroke="#f00" stroke-width="2.7" fill="none" stroke-linejoin="round" stroke-linecap="round"/>
<g fill="#00f"><circle cx="359.8" cy="721.3" r="1.55"/><circle cx="365.5" cy="721.3" r="1.55"/><circle cx="372.2" cy="721.3" r="1.55"/><circle cx="378.3" cy="721.2" r="1.55"/><circle cx="384.3" cy="720.8" r="1.55"/><circle cx="389.7" cy="720.0" r="1.55"/><circle cx="394.3" cy="718.0" r="1.55"/><circle cx="398.0" cy="712.8" r="1.55"/><circle cx="400.0" cy="706.7" r="1.55"/><circle cx="403.5" cy="700.8" r="1.55"/><circle cx="407.5" cy="697.0" r="1.55"/><circle cx="411.0" cy="702.5" r="1.55"/><circle cx="415.5" cy="702.0" r="1.55"/><circle cx="419.3" cy="707.0" r="1.55"/><circle cx="423.8" cy="708.7" r="1.55"/><circle cx="429.2" cy="708.7" r="1.55"/><circle cx="434.7" cy="709.2" r="1.55"/><circle cx="439.7" cy="710.3" r="1.55"/><circle cx="444.3" cy="713.8" r="1.55"/><circle cx="449.3" cy="716.3" r="1.55"/><circle cx="455.0" cy="715.8" r="1.55"/><circle cx="460.5" cy="715.0" r="1.55"/><circle cx="466.0" cy="714.7" r="1.55"/><circle cx="469.0" cy="715.0" r="1.55"/><circle cx="474.8" cy="714.2" r="1.55"/><circle cx="480.0" cy="711.7" r="1.55"/><circle cx="485.3" cy="713.0" r="1.55"/><circle cx="490.7" cy="711.7" r="1.55"/><circle cx="495.7" cy="709.2" r="1.55"/><circle cx="500.0" cy="706.7" r="1.55"/><circle cx="504.5" cy="704.2" r="1.55"/><circle cx="509.5" cy="701.2" r="1.55"/><circle cx="514.2" cy="698.3" r="1.55"/><circle cx="517.8" cy="693.0" r="1.55"/><circle cx="521.5" cy="688.7" r="1.55"/><circle cx="525.0" cy="682.5" r="1.55"/><circle cx="528.7" cy="681.2" r="1.55"/><circle cx="531.5" cy="686.3" r="1.55"/><circle cx="533.3" cy="693.0" r="1.55"/><circle cx="536.5" cy="698.3" r="1.55"/><circle cx="540.3" cy="702.5" r="1.55"/><circle cx="544.5" cy="705.8" r="1.55"/><circle cx="548.7" cy="709.2" r="1.55"/><circle cx="553.7" cy="711.7" r="1.55"/><circle cx="558.7" cy="713.8" r="1.55"/><circle cx="563.7" cy="715.5" r="1.55"/><circle cx="568.3" cy="716.3" r="1.55"/><circle cx="573.7" cy="717.5" r="1.55"/><circle cx="579.0" cy="718.2" r="1.55"/><circle cx="584.3" cy="718.7" r="1.55"/><circle cx="589.7" cy="719.2" r="1.55"/></g>
</g>
<text x="353.5" y="726.2" font-size="14.5" text-anchor="end">0</text>
<text x="353.5" y="709.2" font-size="14.5" text-anchor="end">10</text>
<text x="353.5" y="692.2" font-size="14.5" text-anchor="end">20</text>
<text x="353.5" y="675.2" font-size="14.5" text-anchor="end">30</text>
<path d="M359.8,671.8 L359.8,721.8 L589.1,721.8 M359.8,721.8 h-4.5 M359.8,713.5 h-2.4 M359.8,705.1 h-4.5 M359.8,696.8 h-2.4 M359.8,688.5 h-4.5 M359.8,680.1 h-2.4 M359.8,671.8 h-4.5 M359.8,721.8 v4.8 M364.9,721.8 v2.6 M370.0,721.8 v2.6 M375.1,721.8 v2.6 M380.2,721.8 v2.6 M385.3,721.8 v2.6 M390.4,721.8 v2.6 M395.5,721.8 v2.6 M400.6,721.8 v2.6 M405.7,721.8 v2.6 M410.8,721.8 v4.8 M415.8,721.8 v2.6 M420.9,721.8 v2.6 M426.0,721.8 v2.6 M431.1,721.8 v2.6 M436.2,721.8 v2.6 M441.3,721.8 v2.6 M446.4,721.8 v2.6 M451.5,721.8 v2.6 M456.6,721.8 v2.6 M461.7,721.8 v4.8 M466.8,721.8 v2.6 M471.9,721.8 v2.6 M477.0,721.8 v2.6 M482.1,721.8 v2.6 M487.2,721.8 v2.6 M492.3,721.8 v2.6 M497.4,721.8 v2.6 M502.5,721.8 v2.6 M507.6,721.8 v2.6 M512.6,721.8 v4.8 M517.7,721.8 v2.6 M522.8,721.8 v2.6 M527.9,721.8 v2.6 M533.0,721.8 v2.6 M538.1,721.8 v2.6 M543.2,721.8 v2.6 M548.3,721.8 v2.6 M553.4,721.8 v2.6 M558.5,721.8 v2.6 M563.6,721.8 v4.8 M568.7,721.8 v2.6 M573.8,721.8 v2.6 M578.9,721.8 v2.6 M584.0,721.8 v2.6 M589.1,721.8 v2.6" stroke="#111" stroke-width="1.0" fill="none"/>
<clipPath id="cl4"><rect x="97.3" y="740.6" width="231.6" height="58.0"/></clipPath>
<g clip-path="url(#cl4)">
<path d="M98.0,795.2 C99.6,795.2 105.1,795.2 108.0,795.2 C110.9,795.1 113.9,795.0 116.3,794.8 C118.7,794.7 121.4,794.6 123.0,794.3 C124.6,794.1 125.4,793.8 126.3,793.2 C127.3,792.6 128.1,791.5 128.8,790.7 C129.6,789.8 130.3,788.3 131.0,787.7 C131.7,787.0 132.3,786.5 133.0,786.5 C133.7,786.5 134.7,787.2 135.5,787.7 C136.3,788.2 137.3,789.3 138.0,789.7 C138.7,790.1 139.3,790.4 140.0,790.2 C140.7,790.0 141.5,789.1 142.2,788.5 C142.9,787.9 143.7,786.7 144.3,786.3 C145.0,785.9 145.7,786.3 146.3,786.0 C146.9,785.7 147.5,784.9 148.0,784.7 C148.5,784.5 149.1,784.3 149.7,784.7 C150.3,785.0 151.0,786.2 151.7,786.8 C152.3,787.4 153.1,788.4 153.8,788.5 C154.6,788.6 155.5,788.0 156.3,787.7 C157.1,787.3 158.0,786.5 158.8,786.3 C159.6,786.2 160.5,786.6 161.3,786.8 C162.1,787.0 163.0,787.4 163.8,787.7 C164.6,787.9 165.5,788.2 166.3,788.5 C167.1,788.8 168.0,789.3 168.8,789.3 C169.6,789.4 170.5,788.9 171.3,789.0 C172.1,789.1 173.0,789.7 173.8,789.8 C174.6,789.9 175.5,789.9 176.3,789.7 C177.1,789.5 178.0,788.7 178.8,788.5 C179.6,788.3 180.5,788.2 181.3,788.2 C182.1,788.2 183.0,788.2 183.8,788.5 C184.6,788.8 185.5,789.6 186.3,789.8 C187.1,790.1 188.0,790.1 188.8,790.2 C189.6,790.3 190.4,790.3 191.3,790.5 C192.3,790.7 193.6,791.2 194.7,791.3 C195.7,791.5 196.9,791.4 198.0,791.3 C199.1,791.2 200.3,790.9 201.3,790.7 C202.4,790.4 203.8,790.0 204.7,789.8 C205.6,789.6 206.1,789.3 207.0,789.3 C207.9,789.4 209.1,789.9 210.3,790.2 C211.5,790.4 213.2,790.8 214.5,791.0 C215.8,791.2 217.3,791.3 218.7,791.3 C220.0,791.3 221.6,791.2 222.8,791.0 C224.0,790.8 225.1,790.5 226.2,790.2 C227.2,789.8 228.4,789.2 229.5,788.8 C230.6,788.5 231.6,788.4 232.8,788.2 C234.0,788.0 235.7,787.8 237.0,787.7 C238.3,787.5 240.0,787.2 241.2,787.2 C242.4,787.1 243.4,787.5 244.5,787.3 C245.6,787.2 246.9,786.6 247.8,786.3 C248.8,786.1 249.4,785.7 250.3,785.7 C251.3,785.7 252.6,786.1 253.7,786.3 C254.7,786.5 255.9,786.9 257.0,786.8 C258.1,786.8 259.3,786.2 260.3,786.0 C261.4,785.8 262.5,785.7 263.7,785.7 C264.9,785.7 266.6,786.0 267.8,786.0 C269.0,786.0 270.1,785.7 271.2,785.7 C272.2,785.6 273.4,785.8 274.5,785.5 C275.6,785.2 276.8,784.5 277.8,784.0 C278.9,783.5 280.1,783.0 281.2,782.7 C282.2,782.3 283.4,782.1 284.5,781.8 C285.6,781.6 286.8,781.1 287.8,781.0 C288.9,780.9 290.2,781.2 291.2,781.0 C292.1,780.8 292.9,780.2 293.7,779.7 C294.5,779.1 295.5,778.0 296.2,777.7 C296.8,777.3 297.2,777.2 297.8,777.3 C298.4,777.5 299.3,777.9 300.0,778.5 C300.7,779.1 301.3,780.4 302.0,781.0 C302.7,781.6 303.7,781.9 304.5,782.3 C305.3,782.7 306.1,783.2 307.0,783.5 C307.9,783.8 309.3,784.1 310.3,784.3 C311.4,784.6 312.6,784.8 313.7,785.0 C314.7,785.2 315.7,785.3 317.0,785.7 C318.3,786.0 320.3,786.9 322.0,787.3 C323.7,787.8 326.6,788.5 327.5,788.7" stroke="#000" stroke-width="1.5" fill="none" stroke-linejoin="round" stroke-linecap="round"/>
<path d="M98.0,794.3 C98.5,794.1 100.3,793.6 101.3,793.2 C102.4,792.8 103.7,792.3 104.7,791.8 C105.7,791.4 106.8,790.3 107.7,790.2 C108.5,790.0 109.2,790.8 110.0,791.0 C110.8,791.2 111.8,791.5 112.7,791.3 C113.5,791.2 114.6,790.6 115.5,790.2 C116.4,789.7 117.2,789.4 118.0,788.5 C118.8,787.6 119.7,785.8 120.5,784.3 C121.3,782.9 122.3,780.5 123.0,779.3 C123.7,778.1 124.4,777.3 125.0,776.8 C125.6,776.4 126.1,776.1 126.7,776.3 C127.3,776.5 128.1,777.6 128.8,778.0 C129.6,778.4 130.5,778.6 131.3,779.0 C132.1,779.4 133.0,780.2 133.8,780.7 C134.6,781.1 135.5,781.5 136.3,781.8 C137.1,782.2 138.0,782.5 138.8,782.7 C139.6,782.9 140.5,783.2 141.3,783.2 C142.1,783.2 143.0,782.9 143.8,782.7 C144.6,782.5 145.5,782.2 146.3,781.8 C147.1,781.5 148.2,780.9 148.8,780.7 C149.5,780.4 149.9,780.0 150.5,780.2 C151.1,780.4 151.9,781.3 152.7,781.8 C153.5,782.4 154.6,783.0 155.5,783.5 C156.4,784.0 157.1,784.4 158.0,784.7 C158.9,785.0 160.3,785.3 161.3,785.3 C162.4,785.4 163.6,785.2 164.7,785.2 C165.7,785.1 166.9,784.9 168.0,785.0 C169.1,785.1 170.3,785.6 171.3,785.5 C172.4,785.4 173.6,784.9 174.7,784.7 C175.7,784.4 176.9,784.1 178.0,784.0 C179.1,783.9 180.4,783.9 181.3,783.8 C182.3,783.8 183.0,783.5 183.8,783.5 C184.6,783.5 185.5,783.8 186.3,783.8 C187.1,783.8 188.0,783.4 188.8,783.5 C189.6,783.6 190.4,784.0 191.3,784.3 C192.3,784.7 193.6,785.4 194.7,785.7 C195.7,785.9 196.9,785.9 198.0,786.0 C199.1,786.1 200.3,786.2 201.3,786.3 C202.4,786.4 203.8,786.6 204.7,786.7 C205.6,786.7 206.1,786.9 207.0,786.8 C207.9,786.8 209.3,786.6 210.3,786.3 C211.4,786.1 212.6,785.7 213.7,785.2 C214.7,784.6 215.9,783.6 217.0,783.0 C218.1,782.4 219.3,781.9 220.3,781.5 C221.4,781.1 222.6,781.1 223.7,780.7 C224.7,780.2 225.9,779.0 227.0,778.5 C228.1,778.0 229.3,777.6 230.3,777.3 C231.4,777.1 232.7,777.0 233.7,776.8 C234.6,776.6 235.4,776.0 236.2,776.0 C237.0,776.0 237.7,776.6 238.7,776.8 C239.6,777.0 241.1,777.2 242.0,777.3 C242.9,777.5 243.7,777.3 244.5,777.7 C245.3,778.0 246.2,778.8 247.0,779.3 C247.8,779.9 248.7,781.0 249.5,781.0 C250.3,781.0 251.2,779.5 252.0,779.3 C252.8,779.1 253.7,779.6 254.5,779.8 C255.3,780.0 256.1,780.3 257.0,780.5 C257.9,780.7 259.3,780.9 260.3,781.0 C261.4,781.1 262.6,781.2 263.7,781.3 C264.7,781.5 266.1,781.7 267.0,781.8 C267.9,782.0 268.7,782.5 269.5,782.3 C270.3,782.2 271.2,781.4 272.0,781.0 C272.8,780.6 273.7,779.7 274.5,779.7 C275.3,779.6 276.2,780.3 277.0,780.7 C277.8,781.0 278.7,781.7 279.5,781.8 C280.3,782.0 281.2,781.7 282.0,781.5 C282.8,781.3 283.7,780.8 284.5,780.5 C285.3,780.2 286.1,780.0 287.0,779.8 C287.9,779.7 289.3,779.6 290.3,779.7 C291.4,779.7 292.6,779.9 293.7,780.2 C294.7,780.5 295.9,781.2 297.0,781.5 C298.1,781.8 299.3,782.1 300.3,782.3 C301.4,782.6 302.6,782.7 303.7,783.0 C304.7,783.3 305.9,783.7 307.0,784.0 C308.1,784.3 309.3,784.8 310.3,785.2 C311.4,785.5 312.6,785.8 313.7,786.0 C314.7,786.2 315.7,786.4 317.0,786.7 C318.3,786.9 320.3,787.3 322.0,787.7 C323.7,788.0 326.6,788.6 327.5,788.8" stroke="#f00" stroke-width="2.7" fill="none" stroke-linejoin="round" stroke-linecap="round"/>
</g>
<text x="92.0" y="800.0" font-size="14.5" text-anchor="end">0</text>
<text x="92.0" y="783.0" font-size="14.5" text-anchor="end">50</text>
<text x="92.0" y="766.0" font-size="14.5" text-anchor="end">100</text>
<text x="92.0" y="749.0" font-size="14.5" text-anchor="end">150</text>
<path d="M98.3,745.6 L98.3,795.6 L326.9,795.6 M98.3,795.6 h-4.5 M98.3,792.3 h-2.4 M98.3,788.9 h-2.4 M98.3,785.6 h-2.4 M98.3,782.3 h-2.4 M98.3,778.9 h-4.5 M98.3,775.6 h-2.4 M98.3,772.3 h-2.4 M98.3,768.9 h-2.4 M98.3,765.6 h-2.4 M98.3,762.3 h-4.5 M98.3,758.9 h-2.4 M98.3,755.6 h-2.4 M98.3,752.3 h-2.4 M98.3,748.9 h-2.4 M98.3,745.6 h-4.5 M98.3,795.6 v2.6 M104.0,795.6 v2.6 M109.7,795.6 v2.6 M115.4,795.6 v2.6 M121.2,795.6 v2.6 M126.9,795.6 v4.8 M132.6,795.6 v2.6 M138.3,795.6 v2.6 M144.0,795.6 v2.6 M149.7,795.6 v2.6 M155.4,795.6 v2.6 M161.2,795.6 v2.6 M166.9,795.6 v2.6 M172.6,795.6 v2.6 M178.3,795.6 v2.6 M184.0,795.6 v4.8 M189.7,795.6 v2.6 M195.5,795.6 v2.6 M201.2,795.6 v2.6 M206.9,795.6 v2.6 M212.6,795.6 v2.6 M218.3,795.6 v2.6 M224.0,795.6 v2.6 M229.7,795.6 v2.6 M235.5,795.6 v2.6 M241.2,795.6 v4.8 M246.9,795.6 v2.6 M252.6,795.6 v2.6 M258.3,795.6 v2.6 M264.0,795.6 v2.6 M269.8,795.6 v2.6 M275.5,795.6 v2.6 M281.2,795.6 v2.6 M286.9,795.6 v2.6 M292.6,795.6 v2.6 M298.3,795.6 v4.8 M304.0,795.6 v2.6 M309.8,795.6 v2.6 M315.5,795.6 v2.6 M321.2,795.6 v2.6 M326.9,795.6 v2.6" stroke="#111" stroke-width="1.0" fill="none"/>
<text x="126.9" y="813.8" font-size="14.5" text-anchor="middle">10</text>
<text x="184.0" y="813.8" font-size="14.5" text-anchor="middle">20</text>
<text x="241.2" y="813.8" font-size="14.5" text-anchor="middle">30</text>
<text x="298.3" y="813.8" font-size="14.5" text-anchor="middle">40</text>
<clipPath id="cr4"><rect x="358.8" y="740.6" width="232.3" height="58.0"/></clipPath>
<g clip-path="url(#cr4)">
<path d="M359.8,795.3 C363.5,795.3 377.2,795.2 383.0,795.2 C388.8,795.1 393.1,795.1 396.3,795.0 C399.5,794.9 401.3,794.8 403.0,794.7 C404.7,794.5 406.0,794.4 407.2,794.0 C408.3,793.6 409.2,793.1 410.0,792.3 C410.8,791.6 411.5,790.4 412.2,789.3 C412.8,788.3 413.6,786.5 414.2,785.7 C414.8,784.9 415.4,784.3 416.0,784.3 C416.6,784.3 417.4,785.1 418.0,785.7 C418.6,786.3 419.3,787.5 420.0,788.0 C420.7,788.5 421.6,788.7 422.2,788.5 C422.8,788.3 423.3,787.6 423.8,786.8 C424.4,786.1 424.9,784.6 425.5,784.0 C426.1,783.4 427.0,783.2 427.7,783.0 C428.3,782.8 429.1,782.6 429.7,782.7 C430.3,782.7 430.8,782.7 431.3,783.2 C431.9,783.6 432.4,785.1 433.0,785.7 C433.6,786.3 434.3,786.8 435.0,786.8 C435.7,786.8 436.5,785.9 437.2,785.7 C437.9,785.4 438.7,785.1 439.3,785.2 C440.0,785.3 440.6,786.0 441.3,786.3 C442.1,786.7 443.0,787.0 443.8,787.3 C444.6,787.6 445.5,788.0 446.3,788.2 C447.1,788.3 448.1,788.2 448.8,788.2 C449.6,788.1 450.3,787.9 451.0,788.0 C451.7,788.1 452.6,788.8 453.3,788.5 C454.1,788.2 454.8,786.7 455.5,786.3 C456.2,785.9 456.9,785.8 457.7,786.0 C458.4,786.2 459.2,786.8 460.0,787.3 C460.8,787.9 461.8,788.9 462.7,789.3 C463.5,789.8 464.8,789.9 465.5,790.0 C466.2,790.1 466.1,789.8 467.0,790.0 C467.9,790.2 469.8,790.9 471.2,791.0 C472.5,791.1 474.1,790.8 475.3,790.7 C476.5,790.5 477.7,790.4 478.7,790.2 C479.6,790.0 480.4,789.4 481.2,789.3 C482.0,789.3 482.7,789.8 483.7,789.8 C484.6,789.9 485.9,789.8 487.0,789.8 C488.1,789.9 489.3,790.3 490.3,790.3 C491.4,790.4 492.6,790.3 493.7,790.2 C494.7,790.1 496.1,789.9 497.0,789.7 C497.9,789.4 498.7,788.9 499.5,788.5 C500.3,788.1 501.1,787.7 502.0,787.3 C502.9,787.0 504.3,786.8 505.3,786.5 C506.4,786.2 507.7,785.8 508.7,785.7 C509.6,785.5 510.4,785.4 511.2,785.5 C512.0,785.6 512.7,786.0 513.7,786.0 C514.6,786.0 515.9,785.9 517.0,785.7 C518.1,785.5 519.4,784.8 520.3,784.7 C521.3,784.5 522.0,784.6 522.8,784.7 C523.6,784.7 524.5,785.2 525.3,785.2 C526.1,785.2 526.9,784.9 527.8,784.7 C528.8,784.5 530.1,783.9 531.2,783.8 C532.2,783.7 533.4,784.1 534.5,784.0 C535.6,783.9 536.8,783.6 537.8,783.5 C538.9,783.4 540.2,783.6 541.2,783.5 C542.1,783.4 542.9,783.1 543.7,782.7 C544.5,782.2 545.4,781.2 546.2,780.7 C547.0,780.1 547.9,779.7 548.7,779.3 C549.5,779.0 550.5,778.9 551.2,778.5 C551.8,778.1 552.2,777.0 552.8,776.8 C553.5,776.6 554.5,777.3 555.3,777.3 C556.1,777.3 557.2,777.2 557.8,776.8 C558.5,776.5 559.0,775.9 559.5,775.2 C560.0,774.4 560.7,772.9 561.2,772.3 C561.6,771.7 562.0,771.4 562.5,771.5 C563.0,771.6 563.5,772.3 564.0,773.0 C564.5,773.7 565.2,775.2 565.7,776.0 C566.1,776.8 566.4,777.4 567.0,778.0 C567.6,778.6 568.6,779.2 569.5,779.7 C570.4,780.1 571.8,780.5 572.8,781.0 C573.9,781.5 574.5,782.2 576.0,783.0 C577.5,783.8 579.9,785.2 582.0,786.0 C584.1,786.8 587.9,787.8 589.0,788.2" stroke="#000" stroke-width="1.5" fill="none" stroke-linejoin="round" stroke-linecap="round"/>
<path d="M359.8,795.2 C361.7,795.1 368.2,795.0 371.3,794.8 C374.5,794.7 377.4,794.5 379.7,794.3 C381.9,794.1 383.9,793.8 385.5,793.5 C387.1,793.2 388.5,792.8 389.7,792.3 C390.9,791.9 392.1,791.1 393.0,790.7 C393.9,790.3 394.3,789.8 395.0,789.8 C395.7,789.8 396.4,790.6 397.2,790.7 C397.9,790.7 398.9,790.4 399.7,790.2 C400.5,790.0 401.4,789.9 402.2,789.3 C402.9,788.8 403.7,787.9 404.3,786.8 C405.0,785.8 405.7,784.0 406.3,782.7 C406.9,781.3 407.4,779.6 408.0,778.5 C408.6,777.4 409.4,776.1 410.0,775.7 C410.6,775.2 411.1,775.3 411.7,775.5 C412.3,775.7 413.1,776.7 413.8,776.8 C414.5,777.0 415.3,776.2 416.0,776.5 C416.7,776.8 417.3,777.9 418.0,778.5 C418.7,779.1 419.7,779.7 420.5,780.2 C421.3,780.6 422.2,781.4 423.0,781.5 C423.8,781.6 424.8,781.1 425.5,780.7 C426.2,780.3 427.0,779.3 427.7,779.0 C428.3,778.7 428.9,778.6 429.7,778.5 C430.4,778.4 431.4,778.2 432.2,778.5 C432.9,778.8 433.7,779.4 434.3,780.2 C435.0,780.9 435.6,782.3 436.3,783.0 C437.1,783.7 438.0,784.3 438.8,784.7 C439.6,785.1 440.5,785.4 441.3,785.5 C442.1,785.6 443.0,785.3 443.8,785.2 C444.6,785.0 445.5,784.7 446.3,784.7 C447.1,784.6 448.0,784.8 448.8,784.7 C449.6,784.6 450.5,784.2 451.3,784.0 C452.1,783.8 453.0,783.7 453.8,783.5 C454.6,783.3 455.5,783.1 456.3,783.0 C457.1,782.9 458.0,782.9 458.8,782.7 C459.6,782.5 460.5,781.9 461.3,781.8 C462.1,781.8 462.9,782.0 463.8,782.2 C464.7,782.3 466.1,782.3 467.0,782.7 C467.9,783.0 468.7,783.8 469.5,784.3 C470.3,784.9 471.1,785.7 472.0,786.0 C472.9,786.3 474.3,786.3 475.3,786.3 C476.4,786.4 477.6,786.6 478.7,786.5 C479.7,786.4 480.9,786.2 482.0,786.0 C483.1,785.8 484.4,785.4 485.3,785.2 C486.3,785.0 487.0,785.1 487.8,784.7 C488.6,784.3 489.5,783.3 490.3,782.7 C491.1,782.0 492.0,781.1 492.8,780.5 C493.6,779.9 494.5,779.5 495.3,779.0 C496.1,778.5 497.0,778.2 497.8,777.7 C498.6,777.1 499.6,776.3 500.3,775.7 C501.1,775.1 501.7,774.3 502.3,774.0 C503.0,773.7 503.9,773.8 504.5,773.5 C505.1,773.2 505.6,772.2 506.2,771.8 C506.7,771.4 507.3,770.8 507.8,771.0 C508.4,771.2 508.9,772.5 509.5,773.0 C510.1,773.5 511.0,773.8 511.7,774.0 C512.3,774.2 513.0,774.1 513.7,774.3 C514.3,774.5 515.0,774.7 515.7,775.2 C516.3,775.6 517.1,776.8 517.8,777.3 C518.5,777.9 519.3,778.4 520.0,778.5 C520.7,778.6 521.6,777.7 522.3,777.7 C523.1,777.6 523.8,777.8 524.5,778.0 C525.2,778.2 526.1,778.7 527.0,778.8 C527.9,779.0 529.3,778.9 530.3,779.0 C531.4,779.1 532.6,779.3 533.7,779.3 C534.7,779.4 536.1,779.7 537.0,779.3 C537.9,778.9 538.3,777.6 539.0,776.8 C539.7,776.1 540.6,775.2 541.2,774.8 C541.8,774.5 542.3,774.4 542.8,774.7 C543.4,774.9 543.9,775.8 544.5,776.3 C545.1,776.9 546.0,777.8 546.7,778.0 C547.3,778.2 547.9,777.7 548.7,777.3 C549.4,777.0 550.4,776.3 551.2,775.7 C552.0,775.1 552.9,773.8 553.7,773.5 C554.4,773.2 555.0,773.6 555.7,773.8 C556.3,774.1 557.1,774.7 557.8,775.2 C558.6,775.6 559.5,776.3 560.3,776.8 C561.1,777.4 561.9,778.2 562.8,778.5 C563.8,778.8 565.1,778.7 566.2,779.0 C567.2,779.3 568.4,779.7 569.5,780.2 C570.6,780.6 571.8,781.2 572.8,781.8 C573.9,782.4 574.5,783.3 576.0,784.0 C577.5,784.7 579.9,785.6 582.0,786.3 C584.1,787.0 587.9,788.0 589.0,788.3" stroke="#f00" stroke-width="2.7" fill="none" stroke-linejoin="round" stroke-linecap="round"/>
</g>
<text x="353.5" y="800.0" font-size="14.5" text-anchor="end">0</text>
<text x="353.5" y="783.0" font-size="14.5" text-anchor="end">10</text>
<text x="353.5" y="766.0" font-size="14.5" text-anchor="end">20</text>
<text x="353.5" y="749.0" font-size="14.5" text-anchor="end">30</text>
<path d="M359.8,745.6 L359.8,795.6 L589.1,795.6 M359.8,795.6 h-4.5 M359.8,787.3 h-2.4 M359.8,778.9 h-4.5 M359.8,770.6 h-2.4 M359.8,762.3 h-4.5 M359.8,753.9 h-2.4 M359.8,745.6 h-4.5 M359.8,795.6 v4.8 M364.9,795.6 v2.6 M370.0,795.6 v2.6 M375.1,795.6 v2.6 M380.2,795.6 v2.6 M385.3,795.6 v2.6 M390.4,795.6 v2.6 M395.5,795.6 v2.6 M400.6,795.6 v2.6 M405.7,795.6 v2.6 M410.8,795.6 v4.8 M415.8,795.6 v2.6 M420.9,795.6 v2.6 M426.0,795.6 v2.6 M431.1,795.6 v2.6 M436.2,795.6 v2.6 M441.3,795.6 v2.6 M446.4,795.6 v2.6 M451.5,795.6 v2.6 M456.6,795.6 v2.6 M461.7,795.6 v4.8 M466.8,795.6 v2.6 M471.9,795.6 v2.6 M477.0,795.6 v2.6 M482.1,795.6 v2.6 M487.2,795.6 v2.6 M492.3,795.6 v2.6 M497.4,795.6 v2.6 M502.5,795.6 v2.6 M507.6,795.6 v2.6 M512.6,795.6 v4.8 M517.7,795.6 v2.6 M522.8,795.6 v2.6 M527.9,795.6 v2.6 M533.0,795.6 v2.6 M538.1,795.6 v2.6 M543.2,795.6 v2.6 M548.3,795.6 v2.6 M553.4,795.6 v2.6 M558.5,795.6 v2.6 M563.6,795.6 v4.8 M568.7,795.6 v2.6 M573.8,795.6 v2.6 M578.9,795.6 v2.6 M584.0,795.6 v2.6 M589.1,795.6 v2.6" stroke="#111" stroke-width="1.0" fill="none"/>
<text x="359.8" y="813.8" font-size="14.5" text-anchor="middle">0</text>
<text x="410.8" y="813.8" font-size="14.5" text-anchor="middle">10</text>
<text x="461.7" y="813.8" font-size="14.5" text-anchor="middle">20</text>
<text x="512.6" y="813.8" font-size="14.5" text-anchor="middle">30</text>
<text x="563.6" y="813.8" font-size="14.5" text-anchor="middle">40</text>
<text x="266.3" y="470.0" font-size="16.5" text-anchor="start">SkT6</text>
<text x="256.3" y="533.5" font-size="16.5" text-anchor="start">SV-bas</text>
<text x="270.8" y="605.0" font-size="16.5" text-anchor="start">SkM*</text>
<text x="272.6" y="670.0" font-size="16.5" text-anchor="start">SLy6</text>
<text x="272.4" y="756.4" font-size="16.5" text-anchor="start">SkI3</text>
<text x="257.7" y="486.8" font-size="12.45" xml:space="preserve">m<tspan font-size="7" dy="4.8">0</tspan><tspan dy="-4.8">/ m= 1</tspan></text>
<text x="254.7" y="547.7" font-size="12.45" xml:space="preserve">m<tspan font-size="7" dy="4.8">0</tspan><tspan dy="-4.8">/ m = 0.9</tspan></text>
<text x="255.1" y="619.7" font-size="12.45" xml:space="preserve">m<tspan font-size="7" dy="4.8">0</tspan><tspan dy="-4.8">/ m = 0.79</tspan></text>
<text x="263.9" y="686.7" font-size="12.45" xml:space="preserve">m<tspan font-size="7" dy="4.8">0</tspan><tspan dy="-4.8">/ m = 0.69</tspan></text>
<text x="254.2" y="773.1" font-size="12.45" xml:space="preserve">m<tspan font-size="7" dy="4.8">0</tspan><tspan dy="-4.8">/ m = 0.58</tspan></text>
<text x="362.8" y="474.0" font-size="16.6" text-anchor="start">SkT6</text>
<text x="363.6" y="543.1" font-size="16.6" text-anchor="start">SV-bas</text>
<text x="365.3" y="611.6" font-size="16.6" text-anchor="start">SkM*</text>
<text x="363.6" y="687.0" font-size="16.6" text-anchor="start">SLy6</text>
<text x="362.8" y="761.3" font-size="16.6" text-anchor="start">SkI3</text>
<text x="331.3" y="418.8" font-size="18.7" text-anchor="start">HFB</text>
<text transform="translate(109.6,455.3) scale(0.965,1)" font-size="27.2">T=0</text>
<text transform="translate(371.2,453.9) scale(0.965,1)" font-size="26.6">T=1</text>
<path d="M476.6,402.6 H515" stroke="#000" stroke-width="1.2"/>
<path d="M476.6,427.1 H515.5" stroke="#f00" stroke-width="2.6"/>
<path d="M478,451.2 H516" stroke="#00f" stroke-width="2.8" stroke-linecap="round" stroke-dasharray="0.01 5.24"/>
<text x="520" y="400.3" font-size="9.3">144</text>
<text x="535.6" y="408.7" font-size="16">Sm</text>
<text x="520" y="424.3" font-size="9.3">154</text>
<text x="535.6" y="432.7" font-size="16">Sm</text>
<text x="520" y="448.3" font-size="9.3">154</text>
<text x="535.6" y="456.7" font-size="16">Sm</text>
<text x="565.3" y="456.7" font-size="16">-</text>
<text x="576" y="456.9" font-size="16" style="font-family:&quot;Liberation Serif&quot;,serif;font-weight:normal;stroke-width:0.3px" xml:space="preserve">β = 0</text>
<text x="291" y="835.7" font-size="22" xml:space="preserve">E</text>
<text x="319.2" y="835.7" font-size="22">[MeV]</text>
<text transform="translate(56.4,769.8) rotate(-90)" font-size="23.3">S'com(E1)</text>
<text transform="translate(55.7,638.0) rotate(-90)" font-size="21.5">[</text>
<text transform="translate(56.4,627.3) rotate(-90)" font-size="23.3">e</text>
<text transform="translate(48.9,611.0) rotate(-90)" font-size="13.5">2</text>
<text transform="translate(56.4,598.6) rotate(-90)" font-size="23.3">fm</text>
<text transform="translate(48.9,569.5) rotate(-90)" font-size="13.5">6</text>
<text transform="translate(56.4,555.0) rotate(-90)" font-size="23.3">MeV</text>
<text transform="translate(48.9,506.8) rotate(-90)" font-size="13.5">-1</text>
<text transform="translate(55.7,487.6) rotate(-90)" font-size="21.5">]</text>
</svg>
</body></html>
